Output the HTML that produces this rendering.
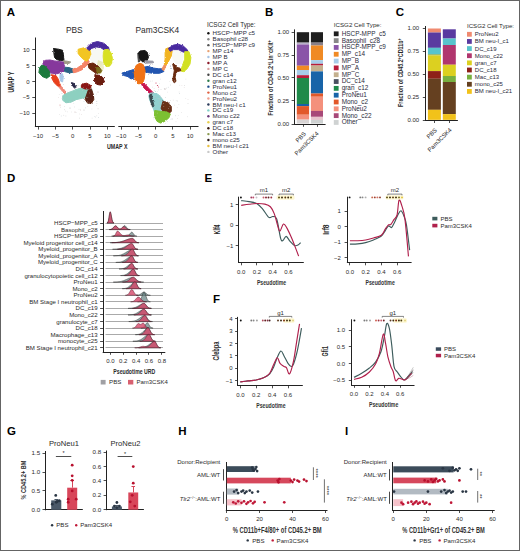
<!DOCTYPE html>
<html><head><meta charset="utf-8"><style>
html,body{margin:0;padding:0;background:#fff;}
svg{display:block;font-family:"Liberation Sans", sans-serif;}
text{paint-order:stroke;}
</style></head><body>
<svg width="520" height="551" viewBox="0 0 520 551">
<rect x="0" y="0" width="520" height="551" fill="#fff"/>
<text x="6.80" y="16.15" font-size="11.5" font-weight="bold" fill="#000">A</text>
<text x="74.30" y="33.00" font-size="8.4" text-anchor="middle" fill="#2a2a2a">PBS</text>
<text x="157.40" y="33.00" font-size="8.4" text-anchor="middle" fill="#2a2a2a">Pam3CSK4</text>
<line x1="35.50" y1="37.50" x2="35.50" y2="126.90" stroke="#222" stroke-width="1"/>
<line x1="34.90" y1="126.50" x2="114.80" y2="126.50" stroke="#222" stroke-width="1"/>
<line x1="32.30" y1="49.50" x2="35.40" y2="49.50" stroke="#222" stroke-width="0.8"/>
<text x="29.60" y="51.60" font-size="6" text-anchor="end" fill="#2a2a2a">10</text>
<line x1="32.30" y1="65.50" x2="35.40" y2="65.50" stroke="#222" stroke-width="0.8"/>
<text x="29.60" y="67.50" font-size="6" text-anchor="end" fill="#2a2a2a">5</text>
<line x1="32.30" y1="81.50" x2="35.40" y2="81.50" stroke="#222" stroke-width="0.8"/>
<text x="29.60" y="83.50" font-size="6" text-anchor="end" fill="#2a2a2a">0</text>
<line x1="32.30" y1="97.50" x2="35.40" y2="97.50" stroke="#222" stroke-width="0.8"/>
<text x="29.60" y="99.40" font-size="6" text-anchor="end" fill="#2a2a2a">−5</text>
<line x1="32.30" y1="113.50" x2="35.40" y2="113.50" stroke="#222" stroke-width="0.8"/>
<text x="29.60" y="115.40" font-size="6" text-anchor="end" fill="#2a2a2a">−10</text>
<line x1="38.50" y1="126.40" x2="38.50" y2="129.60" stroke="#222" stroke-width="0.8"/>
<text x="38.10" y="138.00" font-size="6" text-anchor="middle" fill="#2a2a2a">−10</text>
<line x1="55.50" y1="126.40" x2="55.50" y2="129.60" stroke="#222" stroke-width="0.8"/>
<text x="55.40" y="138.00" font-size="6" text-anchor="middle" fill="#2a2a2a">−5</text>
<line x1="72.50" y1="126.40" x2="72.50" y2="129.60" stroke="#222" stroke-width="0.8"/>
<text x="72.70" y="138.00" font-size="6" text-anchor="middle" fill="#2a2a2a">0</text>
<line x1="90.50" y1="126.40" x2="90.50" y2="129.60" stroke="#222" stroke-width="0.8"/>
<text x="90.00" y="138.00" font-size="6" text-anchor="middle" fill="#2a2a2a">5</text>
<line x1="107.50" y1="126.40" x2="107.50" y2="129.60" stroke="#222" stroke-width="0.8"/>
<text x="107.30" y="138.00" font-size="6" text-anchor="middle" fill="#2a2a2a">10</text>
<line x1="118.30" y1="126.50" x2="198.50" y2="126.50" stroke="#222" stroke-width="1"/>
<line x1="121.50" y1="126.40" x2="121.50" y2="129.60" stroke="#222" stroke-width="0.8"/>
<text x="121.20" y="138.00" font-size="6" text-anchor="middle" fill="#2a2a2a">−10</text>
<line x1="138.50" y1="126.40" x2="138.50" y2="129.60" stroke="#222" stroke-width="0.8"/>
<text x="138.40" y="138.00" font-size="6" text-anchor="middle" fill="#2a2a2a">−5</text>
<line x1="155.50" y1="126.40" x2="155.50" y2="129.60" stroke="#222" stroke-width="0.8"/>
<text x="155.60" y="138.00" font-size="6" text-anchor="middle" fill="#2a2a2a">0</text>
<line x1="172.50" y1="126.40" x2="172.50" y2="129.60" stroke="#222" stroke-width="0.8"/>
<text x="172.80" y="138.00" font-size="6" text-anchor="middle" fill="#2a2a2a">5</text>
<line x1="190.50" y1="126.40" x2="190.50" y2="129.60" stroke="#222" stroke-width="0.8"/>
<text x="190.00" y="138.00" font-size="6" text-anchor="middle" fill="#2a2a2a">10</text>
<text x="117.20" y="148.90" font-size="8.0" text-anchor="middle" font-weight="bold" fill="#2a2a2a" textLength="20.50" lengthAdjust="spacingAndGlyphs">UMAP X</text>
<text x="13.60" y="82.10" font-size="8.2" text-anchor="middle" font-weight="bold" fill="#2a2a2a" textLength="21.00" lengthAdjust="spacingAndGlyphs" transform="rotate(-90 13.60 82.10)">UMAP Y</text>
<path d="M90,48 L100,46 L104,50 L103.5,60 L101,67 L95,65 L90,60Z" fill="rgba(215,222,200,0.2)"/>
<path d="M98,60 L103,62 L104,68 L101,74 L97,72 L97,65Z" fill="rgba(205,205,90,0.35)"/>
<path d="M172,50 L182,49 L184,56 L182,64 L176,64 L172,58Z" fill="rgba(215,222,200,0.18)"/>
<defs><filter id="rough" x="-5%" y="-5%" width="110%" height="110%"><feTurbulence type="fractalNoise" baseFrequency="0.9" numOctaves="2" seed="3" result="n"/><feDisplacementMap in="SourceGraphic" in2="n" scale="2.2" xChannelSelector="R" yChannelSelector="G"/></filter></defs><g filter="url(#rough)">
<path d="M64.5,67.2 L69.1,67.6 L73.7,69.2 L75.0,71.8 L69.8,72.9 L64.5,71.6Z" fill="#2a6484" stroke="#2a6484" stroke-width="1.0" stroke-linejoin="round"/>
<path d="M58.3,84.2 L61.5,86.6 L64.6,90.3 L66.9,94.2 L65.6,95.2 L62.8,91.6 L59.6,88.0 L57.6,85.6Z" fill="#f08878" stroke="#f08878" stroke-width="1.0" stroke-linejoin="round"/>
<path d="M53.8,48.6 L58.5,49.2 L62.6,50.3 L63.4,54.5 L64.0,60.6 L60.5,60.6 L56.5,59.5 L54.6,57.6 L53.9,53.5Z" fill="#151515" stroke="#151515" stroke-width="1.0" stroke-linejoin="round"/>
<path d="M63.2,60.8 L67.0,61.2 L70.8,62.0 L69.0,63.4 L63.5,63.4Z" fill="#a09a88" stroke="#a09a88" stroke-width="1.0" stroke-linejoin="round"/>
<path d="M45.1,60.4 L50.0,60.0 L54.1,60.9 L59.0,61.5 L63.2,62.1 L64.6,66.5 L63.4,71.0 L60.0,72.8 L56.9,73.8 L50.5,73.0 L46.5,69.5 L43.2,65.5 L42.9,62.2Z" fill="#86399c" stroke="#86399c" stroke-width="1.0" stroke-linejoin="round"/>
<path d="M42.0,64.7 L45.2,66.3 L49.3,71.1 L50.0,75.9 L46.8,78.3 L42.7,76.7 L38.9,72.6 L39.6,67.8Z" fill="#1d7a3c" stroke="#1d7a3c" stroke-width="1.0" stroke-linejoin="round"/>
<path d="M51.2,74.7 L56.0,75.5 L58.5,79.5 L59.3,82.6 L60.8,85.9 L57.5,86.0 L54.3,82.8 L52.0,78.8Z" fill="#e8401c" stroke="#e8401c" stroke-width="1.0" stroke-linejoin="round"/>
<path d="M60.0,74.2 L62.6,73.8 L63.2,78.0 L62.6,82.0 L60.8,81.3 L59.9,78.0Z" fill="#a8c8e8" stroke="#a8c8e8" stroke-width="1.0" stroke-linejoin="round"/>
<path d="M72.7,69.3 L77.5,67.8 L82.2,64.7 L85.0,61.0 L87.5,59.2 L89.3,61.8 L87.0,65.1 L82.2,69.7 L76.8,72.0 L73.5,72.8Z" fill="#f58468" stroke="#f58468" stroke-width="1.0" stroke-linejoin="round"/>
<path d="M78.1,49.3 L83.7,47.8 L89.8,49.3 L90.8,53.4 L89.3,58.2 L86.8,61.3 L83.7,59.7 L80.6,56.7 L78.1,53.4Z" fill="#f2c522" stroke="#f2c522" stroke-width="1.0" stroke-linejoin="round"/>
<path d="M86.6,48.2 L91.4,43.2 L97.5,41.5 L103.7,43.2 L108.5,47.0 L109.3,50.5 L105.2,50.5 L100.6,47.6 L96.0,46.9 L91.6,48.4 L89.3,50.6Z" fill="#4a2a9c" stroke="#4a2a9c" stroke-width="1.0" stroke-linejoin="round"/>
<path d="M104.3,49.8 L108.3,49.3 L111.4,53.5 L112.4,58.5 L111.6,63.5 L109.5,66.2 L106.0,66.4 L103.8,63.0 L103.2,57.0 L103.4,52.5Z" fill="#d8e024" stroke="#d8e024" stroke-width="1.0" stroke-linejoin="round"/>
<path d="M88.1,64.0 L92.9,63.0 L96.5,65.0 L99.3,67.0 L100.4,70.5 L99.0,73.4 L95.5,73.0 L92.0,70.5 L88.9,68.2Z" fill="#6a2610" stroke="#6a2610" stroke-width="1.0" stroke-linejoin="round"/>
<path d="M96.5,67.5 L99.5,67.8 L101.8,70.5 L100.5,73.0 L97.0,72.5Z" fill="#7a6a1a" stroke="#7a6a1a" stroke-width="1.0" stroke-linejoin="round"/>
<path d="M95.0,74.7 L100.6,75.5 L103.9,78.8 L103.9,82.8 L100.6,85.1 L96.8,84.4 L94.3,80.3Z" fill="#6a1a0e" stroke="#6a1a0e" stroke-width="1.0" stroke-linejoin="round"/>
<path d="M62.7,95.7 L66.8,93.2 L72.9,90.9 L79.1,88.6 L86.8,87.0 L91.4,88.6 L92.4,92.6 L88.3,96.7 L82.2,98.2 L76.0,99.7 L71.4,102.0 L66.0,102.8 L62.7,100.3Z" fill="#8dd0c0" stroke="#8dd0c0" stroke-width="1.0" stroke-linejoin="round"/>
<path d="M88.3,90.1 L91.5,89.3 L93.4,94.9 L93.8,99.5 L91.8,102.8 L88.0,103.6 L85.0,99.5 L86.6,94.9Z" fill="#5a2212" stroke="#5a2212" stroke-width="1.0" stroke-linejoin="round"/>
<path d="M82.0,84.0 L86.8,83.2 L90.8,85.5 L90.8,88.8 L85.2,89.0 L81.2,87.2Z" fill="#8a1512" stroke="#8a1512" stroke-width="1.0" stroke-linejoin="round"/>
<path d="M71.4,82.6 L73.7,83.2 L76.2,87.2 L74.5,88.2 L72.0,84.9Z" fill="#2a2a48" stroke="#2a2a48" stroke-width="1.0" stroke-linejoin="round"/>
<path d="M137.8,53.0 L139.5,51.5 L140.5,56.0 L140.2,61.0 L138.5,62.0 L138.0,58.0Z" fill="#4a4a4a" stroke="#4a4a4a" stroke-width="1.0" stroke-linejoin="round"/>
<path d="M140.0,51.0 L144.9,50.5 L147.6,52.7 L148.4,57.6 L146.8,61.1 L142.5,61.9 L139.8,58.4 L139.0,54.3Z" fill="#151515" stroke="#151515" stroke-width="1.0" stroke-linejoin="round"/>
<path d="M144.9,60.8 L153.1,61.2 L153.1,62.8 L145.0,63.3Z" fill="#9a9aa6" stroke="#9a9aa6" stroke-width="1.0" stroke-linejoin="round"/>
<path d="M121.9,73.1 L127.8,71.3 L133.5,69.6 L136.2,71.5 L135.3,76.6 L131.1,79.0 L127.8,76.6 L123.5,75.4Z" fill="#2255b0" stroke="#2255b0" stroke-width="1.0" stroke-linejoin="round"/>
<path d="M143.3,67.2 L148.2,66.4 L153.1,68.0 L158.8,68.8 L162.9,68.8 L163.9,71.5 L159.6,73.3 L153.1,73.3 L147.4,72.5 L144.1,71.7Z" fill="#2255b0" stroke="#2255b0" stroke-width="1.0" stroke-linejoin="round"/>
<path d="M142.5,82.7 L145.8,85.1 L149.0,88.4 L152.3,91.7 L153.3,94.5 L150.7,94.5 L147.4,91.3 L144.1,88.0 L141.5,84.5Z" fill="#c81850" stroke="#c81850" stroke-width="1.0" stroke-linejoin="round"/>
<path d="M136.0,65.5 L140.0,63.1 L143.3,64.7 L145.1,70.7 L144.3,78.8 L142.7,83.1 L138.4,83.9 L134.9,78.8 L134.1,72.3Z" fill="#f07214" stroke="#f07214" stroke-width="1.0" stroke-linejoin="round"/>
<path d="M161.8,69.2 L164.3,64.7 L166.0,60.7 L167.6,57.4 L169.0,58.5 L167.6,62.0 L165.8,66.0 L163.8,70.6Z" fill="#f09060" stroke="#f09060" stroke-width="1.0" stroke-linejoin="round"/>
<path d="M166.0,48.4 L170.2,47.6 L172.1,51.1 L171.3,56.0 L168.8,60.9 L166.4,64.9 L164.3,64.1 L165.1,59.2 L165.1,52.7Z" fill="#f2b420" stroke="#f2b420" stroke-width="1.0" stroke-linejoin="round"/>
<path d="M168.4,48.4 L173.5,45.1 L178.4,44.3 L183.3,46.0 L187.6,50.0 L187.6,52.9 L183.3,52.1 L178.4,49.6 L173.5,49.6 L170.2,51.3Z" fill="#4a2aa0" stroke="#4a2aa0" stroke-width="1.0" stroke-linejoin="round"/>
<path d="M184.7,51.7 L189.0,51.7 L190.9,57.6 L190.0,64.1 L186.8,69.2 L183.3,71.7 L180.7,70.9 L182.3,65.8 L184.7,59.2Z" fill="#d2e024" stroke="#d2e024" stroke-width="1.0" stroke-linejoin="round"/>
<path d="M172.7,64.1 L175.1,64.9 L176.8,67.4 L180.0,68.2 L180.9,70.7 L177.6,71.5 L176.0,73.1 L175.1,77.2 L176.0,81.3 L174.3,82.9 L172.7,80.4 L173.5,75.6 L174.3,70.7 L173.5,67.4Z" fill="#6a2a10" stroke="#6a2a10" stroke-width="1.0" stroke-linejoin="round"/>
<path d="M149.8,93.3 L154.7,92.5 L158.8,94.9 L162.9,99.8 L165.5,103.3 L163.9,106.6 L161.3,109.8 L158.8,114.9 L155.4,114.9 L153.7,109.8 L152.1,104.9 L149.6,100.0 L148.8,96.0Z" fill="#92d0d0" stroke="#92d0d0" stroke-width="1.0" stroke-linejoin="round"/>
<path d="M149.4,95.0 L151.5,94.0 L152.5,100.0 L154.0,106.0 L152.5,107.0 L150.5,101.0Z" fill="#3a4a50" stroke="#3a4a50" stroke-width="1.0" stroke-linejoin="round"/>
<path d="M162.9,101.5 L167.8,102.3 L171.3,106.6 L171.3,111.5 L167.8,114.1 L163.7,113.3 L161.1,108.2Z" fill="#6a3018" stroke="#6a3018" stroke-width="1.0" stroke-linejoin="round"/>
<path d="M154.7,110.5 L160.4,111.3 L167.0,112.1 L170.4,113.9 L168.8,118.0 L164.5,121.5 L160.4,123.1 L157.0,121.3 L154.5,116.4Z" fill="#7cc030" stroke="#7cc030" stroke-width="1.0" stroke-linejoin="round"/>
</g>
<rect x="64.3" y="106.1" width="0.6" height="0.6" fill="#c8c8c8"/>
<rect x="153.6" y="104.8" width="0.6" height="0.6" fill="#a8b8c0"/>
<rect x="61.6" y="98.2" width="0.6" height="0.6" fill="#d0d0d0"/>
<rect x="75.8" y="112.1" width="0.6" height="0.6" fill="#c8c8c8"/>
<rect x="174.0" y="104.8" width="0.6" height="0.6" fill="#c8c8c8"/>
<rect x="165.1" y="122.9" width="0.6" height="0.6" fill="#c8c8c8"/>
<rect x="155.1" y="97.3" width="0.6" height="0.6" fill="#a8b8c0"/>
<rect x="71.0" y="111.7" width="0.6" height="0.6" fill="#d0d0d0"/>
<rect x="82.0" y="90.4" width="0.6" height="0.6" fill="#c8c8c8"/>
<rect x="152.4" y="80.7" width="0.6" height="0.6" fill="#d0d0d0"/>
<rect x="80.3" y="110.4" width="0.6" height="0.6" fill="#d8c8c8"/>
<rect x="167.2" y="91.8" width="0.6" height="0.6" fill="#d0d0d0"/>
<rect x="159.3" y="104.4" width="0.6" height="0.6" fill="#a8b8c0"/>
<rect x="72.4" y="99.3" width="0.6" height="0.6" fill="#a8b8c0"/>
<rect x="154.5" y="97.2" width="0.6" height="0.6" fill="#b8b8b8"/>
<rect x="78.5" y="85.3" width="0.6" height="0.6" fill="#c8c8c8"/>
<rect x="171.8" y="118.3" width="0.6" height="0.6" fill="#b8b8b8"/>
<rect x="72.7" y="100.9" width="0.6" height="0.6" fill="#d8c8c8"/>
<rect x="61.9" y="93.2" width="0.6" height="0.6" fill="#c8c8c8"/>
<rect x="87.5" y="106.0" width="0.6" height="0.6" fill="#d8c8c8"/>
<rect x="74.2" y="106.7" width="0.6" height="0.6" fill="#c8c8c8"/>
<rect x="163.5" y="106.1" width="0.6" height="0.6" fill="#d8c8c8"/>
<rect x="90.3" y="88.4" width="0.6" height="0.6" fill="#d0d0d0"/>
<rect x="96.5" y="100.9" width="0.6" height="0.6" fill="#d0d0d0"/>
<rect x="81.1" y="114.0" width="0.6" height="0.6" fill="#d8c8c8"/>
<rect x="160.6" y="97.1" width="0.6" height="0.6" fill="#b8b8b8"/>
<rect x="164.5" y="88.6" width="0.6" height="0.6" fill="#c8c8c8"/>
<rect x="67.7" y="91.9" width="0.6" height="0.6" fill="#d8c8c8"/>
<rect x="156.9" y="91.0" width="0.6" height="0.6" fill="#d0d0d0"/>
<rect x="73.5" y="103.3" width="0.6" height="0.6" fill="#d0d0d0"/>
<rect x="169.6" y="106.4" width="0.6" height="0.6" fill="#c8c8c8"/>
<rect x="94.6" y="116.4" width="0.6" height="0.6" fill="#a8b8c0"/>
<rect x="74.8" y="87.5" width="0.6" height="0.6" fill="#d8c8c8"/>
<rect x="60.8" y="91.1" width="0.6" height="0.6" fill="#d0d0d0"/>
<rect x="83.2" y="87.5" width="0.6" height="0.6" fill="#a8b8c0"/>
<rect x="62.3" y="96.4" width="0.6" height="0.6" fill="#c8c8c8"/>
<rect x="66.7" y="96.8" width="0.6" height="0.6" fill="#b8b8b8"/>
<rect x="172.9" y="99.8" width="0.6" height="0.6" fill="#c8c8c8"/>
<rect x="187.7" y="99.4" width="0.6" height="0.6" fill="#d8c8c8"/>
<rect x="64.1" y="109.5" width="0.6" height="0.6" fill="#b8b8b8"/>
<rect x="87.1" y="101.6" width="0.6" height="0.6" fill="#d0d0d0"/>
<rect x="170.1" y="84.7" width="0.6" height="0.6" fill="#a8b8c0"/>
<rect x="178.8" y="91.7" width="0.6" height="0.6" fill="#c8c8c8"/>
<rect x="159.9" y="94.9" width="0.6" height="0.6" fill="#d0d0d0"/>
<rect x="67.4" y="102.4" width="0.6" height="0.6" fill="#a8b8c0"/>
<rect x="67.4" y="111.6" width="0.6" height="0.6" fill="#d0d0d0"/>
<rect x="181.1" y="112.0" width="0.6" height="0.6" fill="#d0d0d0"/>
<rect x="78.7" y="108.9" width="0.6" height="0.6" fill="#c8c8c8"/>
<rect x="167.9" y="86.9" width="0.6" height="0.6" fill="#a8b8c0"/>
<rect x="167.0" y="121.1" width="0.6" height="0.6" fill="#b8b8b8"/>
<rect x="163.9" y="88.1" width="0.6" height="0.6" fill="#d0d0d0"/>
<rect x="72.2" y="100.4" width="0.6" height="0.6" fill="#a8b8c0"/>
<rect x="168.2" y="108.0" width="0.6" height="0.6" fill="#c8c8c8"/>
<rect x="154.6" y="95.9" width="0.6" height="0.6" fill="#d0d0d0"/>
<rect x="65.5" y="110.8" width="0.6" height="0.6" fill="#b8b8b8"/>
<rect x="97.7" y="108.5" width="0.6" height="0.6" fill="#d8c8c8"/>
<rect x="97.8" y="108.6" width="0.6" height="0.6" fill="#d0d0d0"/>
<rect x="151.0" y="105.2" width="0.6" height="0.6" fill="#d8c8c8"/>
<rect x="155.6" y="116.0" width="0.6" height="0.6" fill="#d8c8c8"/>
<rect x="163.3" y="103.2" width="0.6" height="0.6" fill="#d0d0d0"/>
<rect x="91.6" y="108.7" width="0.6" height="0.6" fill="#c8c8c8"/>
<rect x="185.5" y="98.0" width="0.6" height="0.6" fill="#d0d0d0"/>
<rect x="158.0" y="89.6" width="0.6" height="0.6" fill="#b8b8b8"/>
<rect x="179.0" y="93.0" width="0.6" height="0.6" fill="#a8b8c0"/>
<rect x="63.5" y="114.9" width="0.6" height="0.6" fill="#b8b8b8"/>
<rect x="175.2" y="115.5" width="0.6" height="0.6" fill="#a8b8c0"/>
<rect x="96.5" y="101.1" width="0.6" height="0.6" fill="#a8b8c0"/>
<rect x="79.4" y="113.7" width="0.6" height="0.6" fill="#d0d0d0"/>
<rect x="179.5" y="84.9" width="0.6" height="0.6" fill="#d0d0d0"/>
<rect x="88.5" y="102.9" width="0.6" height="0.6" fill="#b8b8b8"/>
<rect x="170.2" y="100.2" width="0.6" height="0.6" fill="#c8c8c8"/>
<rect x="152.2" y="86.8" width="0.6" height="0.6" fill="#c8c8c8"/>
<rect x="169.3" y="103.8" width="0.6" height="0.6" fill="#c8c8c8"/>
<rect x="83.7" y="101.2" width="0.6" height="0.6" fill="#a8b8c0"/>
<rect x="69.6" y="101.3" width="0.6" height="0.6" fill="#d8c8c8"/>
<rect x="159.4" y="102.1" width="0.6" height="0.6" fill="#b8b8b8"/>
<rect x="183.9" y="87.3" width="0.6" height="0.6" fill="#d8c8c8"/>
<rect x="63.1" y="99.0" width="0.6" height="0.6" fill="#c8c8c8"/>
<rect x="166.3" y="87.8" width="0.6" height="0.6" fill="#b8b8b8"/>
<rect x="184.1" y="85.1" width="0.6" height="0.6" fill="#b8b8b8"/>
<rect x="95.1" y="116.9" width="0.6" height="0.6" fill="#d0d0d0"/>
<rect x="153.6" y="118.7" width="0.6" height="0.6" fill="#d0d0d0"/>
<rect x="181.6" y="85.4" width="0.6" height="0.6" fill="#d8c8c8"/>
<rect x="165.3" y="97.4" width="0.6" height="0.6" fill="#b8b8b8"/>
<rect x="88.3" y="84.7" width="0.6" height="0.6" fill="#a8b8c0"/>
<rect x="87.5" y="97.1" width="0.6" height="0.6" fill="#a8b8c0"/>
<rect x="169.5" y="81.0" width="0.6" height="0.6" fill="#d0d0d0"/>
<rect x="154.0" y="90.2" width="0.6" height="0.6" fill="#c8c8c8"/>
<rect x="156.9" y="112.8" width="0.6" height="0.6" fill="#d8c8c8"/>
<rect x="175.7" y="121.5" width="0.6" height="0.6" fill="#d8c8c8"/>
<rect x="96.6" y="103.4" width="0.6" height="0.6" fill="#b8b8b8"/>
<rect x="60.4" y="107.4" width="0.6" height="0.6" fill="#d8c8c8"/>
<rect x="160.2" y="78.8" width="0.6" height="0.6" fill="#c8c8c8"/>
<rect x="153.2" y="117.4" width="0.6" height="0.6" fill="#c8c8c8"/>
<rect x="63.1" y="84.4" width="0.6" height="0.6" fill="#a8b8c0"/>
<rect x="96.4" y="105.1" width="0.6" height="0.6" fill="#c8c8c8"/>
<rect x="159.1" y="83.0" width="0.6" height="0.6" fill="#d0d0d0"/>
<rect x="65.6" y="115.7" width="0.6" height="0.6" fill="#b8b8b8"/>
<rect x="157.8" y="98.5" width="0.6" height="0.6" fill="#d0d0d0"/>
<rect x="91.8" y="117.8" width="0.6" height="0.6" fill="#c8c8c8"/>
<rect x="88.8" y="102.7" width="0.6" height="0.6" fill="#d0d0d0"/>
<rect x="159.3" y="98.6" width="0.6" height="0.6" fill="#d8c8c8"/>
<rect x="170.7" y="118.9" width="0.6" height="0.6" fill="#a8b8c0"/>
<rect x="67.0" y="91.8" width="0.6" height="0.6" fill="#d0d0d0"/>
<rect x="176.9" y="107.3" width="0.6" height="0.6" fill="#d8c8c8"/>
<rect x="187.3" y="116.5" width="0.6" height="0.6" fill="#c8c8c8"/>
<rect x="89.1" y="92.7" width="0.6" height="0.6" fill="#d0d0d0"/>
<rect x="85.9" y="96.9" width="0.6" height="0.6" fill="#a8b8c0"/>
<rect x="160.7" y="89.1" width="0.6" height="0.6" fill="#b8b8b8"/>
<rect x="65.8" y="93.1" width="0.6" height="0.6" fill="#c8c8c8"/>
<rect x="98.4" y="117.1" width="0.6" height="0.6" fill="#a8b8c0"/>
<rect x="59.4" y="114.0" width="0.6" height="0.6" fill="#d0d0d0"/>
<rect x="58.0" y="97.0" width="0.6" height="0.6" fill="#d8c8c8"/>
<rect x="85.6" y="92.4" width="0.6" height="0.6" fill="#c8c8c8"/>
<rect x="92.3" y="88.9" width="0.6" height="0.6" fill="#a8b8c0"/>
<rect x="58.9" y="94.3" width="0.6" height="0.6" fill="#d0d0d0"/>
<rect x="98.2" y="113.0" width="0.6" height="0.6" fill="#d0d0d0"/>
<rect x="177.2" y="118.4" width="0.6" height="0.6" fill="#d8c8c8"/>
<rect x="177.4" y="100.7" width="0.6" height="0.6" fill="#b8b8b8"/>
<rect x="174.4" y="80.0" width="0.6" height="0.6" fill="#a8b8c0"/>
<rect x="177.9" y="115.4" width="0.6" height="0.6" fill="#d0d0d0"/>
<rect x="178.6" y="104.2" width="0.6" height="0.6" fill="#c8c8c8"/>
<rect x="172.2" y="119.1" width="0.6" height="0.6" fill="#d0d0d0"/>
<rect x="59.8" y="105.7" width="0.6" height="0.6" fill="#c8c8c8"/>
<rect x="77.0" y="85.7" width="0.6" height="0.6" fill="#c8c8c8"/>
<rect x="175.9" y="100.5" width="0.6" height="0.6" fill="#c8c8c8"/>
<rect x="60.9" y="115.7" width="0.6" height="0.6" fill="#a8b8c0"/>
<rect x="80.1" y="109.4" width="0.6" height="0.6" fill="#d8c8c8"/>
<rect x="61.1" y="93.0" width="0.6" height="0.6" fill="#d0d0d0"/>
<rect x="85.3" y="99.7" width="0.6" height="0.6" fill="#d8c8c8"/>
<rect x="96.2" y="93.8" width="0.6" height="0.6" fill="#c8c8c8"/>
<rect x="174.4" y="81.6" width="0.6" height="0.6" fill="#d0d0d0"/>
<rect x="85.4" y="107.6" width="0.6" height="0.6" fill="#a8b8c0"/>
<rect x="150.5" y="80.8" width="0.6" height="0.6" fill="#b8b8b8"/>
<rect x="153.8" y="88.0" width="0.6" height="0.6" fill="#d8c8c8"/>
<rect x="79.7" y="99.8" width="0.6" height="0.6" fill="#d8c8c8"/>
<rect x="187.7" y="103.3" width="0.6" height="0.6" fill="#b8b8b8"/>
<rect x="185.6" y="78.8" width="0.6" height="0.6" fill="#d8c8c8"/>
<rect x="79.3" y="117.8" width="0.6" height="0.6" fill="#b8b8b8"/>
<rect x="96.5" y="115.6" width="0.6" height="0.6" fill="#c8c8c8"/>
<circle cx="156.00" cy="83.00" r="0.6" fill="#d04060"/>
<circle cx="157.50" cy="85.50" r="0.6" fill="#c83050"/>
<circle cx="158.50" cy="87.00" r="0.6" fill="#e06080"/>
<circle cx="170.50" cy="66.00" r="0.6" fill="#a0b0d0"/>
<circle cx="171.00" cy="68.50" r="0.6" fill="#8090b0"/>
<circle cx="165.00" cy="89.00" r="0.6" fill="#b0a0a0"/>
<circle cx="60.00" cy="105.00" r="0.6" fill="#e0a0a0"/>
<circle cx="70.00" cy="108.00" r="0.6" fill="#c0c0c0"/>
<circle cx="75.00" cy="112.00" r="0.6" fill="#d0c0c0"/>
<circle cx="84.00" cy="110.00" r="0.6" fill="#c8c8c8"/>
<circle cx="98.00" cy="92.00" r="0.6" fill="#d0b0b0"/>
<text x="207.00" y="27.40" font-size="6.3" fill="#2a2a2a">ICSG2 Cell Type:</text>
<circle cx="208.40" cy="33.30" r="1.2" fill="#111"/>
<text x="212.60" y="35.40" font-size="6.2" fill="#2a2a3a">HSCP−MPP c5</text>
<circle cx="208.40" cy="39.23" r="1.2" fill="#8a8a8a"/>
<text x="212.60" y="41.33" font-size="6.2" fill="#2a2a3a">Basophil c28</text>
<circle cx="208.40" cy="45.16" r="1.2" fill="#555"/>
<text x="212.60" y="47.26" font-size="6.2" fill="#2a2a3a">HSCP−MPP c9</text>
<circle cx="208.40" cy="51.09" r="1.2" fill="#e8a070"/>
<text x="212.60" y="53.19" font-size="6.2" fill="#2a2a3a">MP c14</text>
<circle cx="208.40" cy="57.02" r="1.2" fill="#a8c4e4"/>
<text x="212.60" y="59.12" font-size="6.2" fill="#2a2a3a">MP B</text>
<circle cx="208.40" cy="62.95" r="1.2" fill="#8b1a2a"/>
<text x="212.60" y="65.05" font-size="6.2" fill="#2a2a3a">MP A</text>
<circle cx="208.40" cy="68.88" r="1.2" fill="#d8a0a0"/>
<text x="212.60" y="70.98" font-size="6.2" fill="#2a2a3a">MP C</text>
<circle cx="208.40" cy="74.81" r="1.2" fill="#444"/>
<text x="212.60" y="76.91" font-size="6.2" fill="#2a2a3a">DC c14</text>
<circle cx="208.40" cy="80.74" r="1.2" fill="#2a7a4a"/>
<text x="212.60" y="82.84" font-size="6.2" fill="#2a2a3a">gran c12</text>
<circle cx="208.40" cy="86.67" r="1.2" fill="#1a4a8a"/>
<text x="212.60" y="88.77" font-size="6.2" fill="#2a2a3a">ProNeu1</text>
<circle cx="208.40" cy="92.60" r="1.2" fill="#e06040"/>
<text x="212.60" y="94.70" font-size="6.2" fill="#2a2a3a">Mono c2</text>
<circle cx="208.40" cy="98.53" r="1.2" fill="#f0a090"/>
<text x="212.60" y="100.63" font-size="6.2" fill="#2a2a3a">ProNeu2</text>
<circle cx="208.40" cy="104.46" r="1.2" fill="#2a3a5a"/>
<text x="212.60" y="106.56" font-size="6.2" fill="#2a2a3a">BM neu-l c1</text>
<circle cx="208.40" cy="110.39" r="1.2" fill="#80d0c8"/>
<text x="212.60" y="112.49" font-size="6.2" fill="#2a2a3a">DC c19</text>
<circle cx="208.40" cy="116.32" r="1.2" fill="#6a3a7a"/>
<text x="212.60" y="118.42" font-size="6.2" fill="#2a2a3a">Mono c22</text>
<circle cx="208.40" cy="122.25" r="1.2" fill="#e8d050"/>
<text x="212.60" y="124.35" font-size="6.2" fill="#2a2a3a">gran c7</text>
<circle cx="208.40" cy="128.18" r="1.2" fill="#3a1a10"/>
<text x="212.60" y="130.28" font-size="6.2" fill="#2a2a3a">DC c18</text>
<circle cx="208.40" cy="134.11" r="1.2" fill="#8a9a50"/>
<text x="212.60" y="136.21" font-size="6.2" fill="#2a2a3a">Mac c13</text>
<circle cx="208.40" cy="140.04" r="1.2" fill="#2a1a1a"/>
<text x="212.60" y="142.14" font-size="6.2" fill="#2a2a3a">mono c25</text>
<circle cx="208.40" cy="145.97" r="1.2" fill="#e8c040"/>
<text x="212.60" y="148.07" font-size="6.2" fill="#2a2a3a">BM neu-l c21</text>
<circle cx="208.40" cy="151.90" r="1.2" fill="#c8c8c8"/>
<text x="212.60" y="154.00" font-size="6.2" fill="#2a2a3a">Other</text>
<text x="265.00" y="16.45" font-size="11.5" font-weight="bold" fill="#000">B</text>
<line x1="294.50" y1="29.40" x2="294.50" y2="124.60" stroke="#222" stroke-width="1"/>
<line x1="293.90" y1="124.50" x2="325.60" y2="124.50" stroke="#222" stroke-width="1"/>
<line x1="291.60" y1="32.50" x2="294.40" y2="32.50" stroke="#222" stroke-width="0.8"/>
<text x="289.10" y="34.30" font-size="6" text-anchor="end" fill="#2a2a2a">1.00</text>
<line x1="291.60" y1="55.50" x2="294.40" y2="55.50" stroke="#222" stroke-width="0.8"/>
<text x="289.10" y="57.10" font-size="6" text-anchor="end" fill="#2a2a2a">0.75</text>
<line x1="291.60" y1="77.50" x2="294.40" y2="77.50" stroke="#222" stroke-width="0.8"/>
<text x="289.10" y="79.90" font-size="6" text-anchor="end" fill="#2a2a2a">0.50</text>
<line x1="291.60" y1="100.50" x2="294.40" y2="100.50" stroke="#222" stroke-width="0.8"/>
<text x="289.10" y="102.70" font-size="6" text-anchor="end" fill="#2a2a2a">0.25</text>
<line x1="291.60" y1="124.50" x2="294.40" y2="124.50" stroke="#222" stroke-width="0.8"/>
<text x="289.10" y="126.00" font-size="6" text-anchor="end" fill="#2a2a2a">0.00</text>
<line x1="303.50" y1="124.10" x2="303.50" y2="126.80" stroke="#222" stroke-width="0.8"/>
<line x1="317.50" y1="124.10" x2="317.50" y2="126.80" stroke="#222" stroke-width="0.8"/>
<rect x="296.80" y="32.20" width="12.30" height="10.45" fill="#1e1e1e"/>
<rect x="296.80" y="42.60" width="12.30" height="1.95" fill="#b8b0c8"/>
<rect x="296.80" y="44.50" width="12.30" height="21.25" fill="#8a55a8"/>
<rect x="296.80" y="65.70" width="12.30" height="4.35" fill="#f08a24"/>
<rect x="296.80" y="70.00" width="12.30" height="5.25" fill="#a8cce8"/>
<rect x="296.80" y="75.20" width="12.30" height="2.85" fill="#b81c3a"/>
<rect x="296.80" y="78.00" width="12.30" height="26.05" fill="#1f8a4a"/>
<rect x="296.80" y="104.00" width="12.30" height="2.15" fill="#1860a8"/>
<rect x="296.80" y="106.10" width="12.30" height="8.65" fill="#e2582a"/>
<rect x="296.80" y="114.70" width="12.30" height="4.95" fill="#f4907c"/>
<rect x="296.80" y="119.60" width="12.30" height="3.95" fill="#d8d4d4"/>
<rect x="310.90" y="32.20" width="12.10" height="10.45" fill="#1e1e1e"/>
<rect x="310.90" y="42.60" width="12.10" height="2.95" fill="#8a8088"/>
<rect x="310.90" y="45.50" width="12.10" height="14.65" fill="#f08a24"/>
<rect x="310.90" y="60.10" width="12.10" height="3.75" fill="#a8cce8"/>
<rect x="310.90" y="63.80" width="12.10" height="1.75" fill="#b81c3a"/>
<rect x="310.90" y="65.50" width="12.10" height="5.95" fill="#c4b08e"/>
<rect x="310.90" y="71.40" width="12.10" height="22.15" fill="#1864a8"/>
<rect x="310.90" y="93.50" width="12.10" height="3.25" fill="#e2582a"/>
<rect x="310.90" y="96.70" width="12.10" height="14.25" fill="#f4907c"/>
<rect x="310.90" y="110.90" width="12.10" height="5.95" fill="#a84878"/>
<rect x="310.90" y="116.80" width="12.10" height="3.15" fill="#e8c4cc"/>
<rect x="310.90" y="119.90" width="12.10" height="3.65" fill="#cfd2d2"/>
<text x="272.90" y="78.00" font-size="7.2" text-anchor="middle" font-weight="bold" fill="#2a2a2a" textLength="75.50" lengthAdjust="spacingAndGlyphs" transform="rotate(-90 272.90 78.00)">Fraction of CD45.2<tspan dy="-2.2" font-size="4.6">+</tspan><tspan dy="2.2">Lin</tspan><tspan dy="-2.2" font-size="4.6">−</tspan><tspan dy="2.2">cKit</tspan><tspan dy="-2.2" font-size="4.6">+</tspan></text>
<text x="306.30" y="134.30" font-size="5.95" text-anchor="end" fill="#2a2a2a" transform="rotate(-45 306.30 134.30)">PBS</text>
<text x="319.00" y="133.80" font-size="5.95" text-anchor="end" fill="#2a2a2a" transform="rotate(-45 319.00 133.80)">Pam3CSK4</text>
<text x="333.80" y="26.60" font-size="6.2" fill="#2a2a2a">ICSG2 Cell Type:</text>
<rect x="333.80" y="31.40" width="4.80" height="4.80" fill="#1e1e1e"/>
<text x="341.70" y="35.70" font-size="6.4" fill="#2a2a3a">HSCP-MPP_c5</text>
<rect x="333.80" y="38.22" width="4.80" height="4.80" fill="#888"/>
<text x="341.70" y="42.52" font-size="6.4" fill="#2a2a3a">Basophil_c28</text>
<rect x="333.80" y="45.04" width="4.80" height="4.80" fill="#8a55a8"/>
<text x="341.70" y="49.34" font-size="6.4" fill="#2a2a3a">HSCP-MPP_c9</text>
<rect x="333.80" y="51.86" width="4.80" height="4.80" fill="#f08a24"/>
<text x="341.70" y="56.16" font-size="6.4" fill="#2a2a3a">MP_c14</text>
<rect x="333.80" y="58.68" width="4.80" height="4.80" fill="#a8cce8"/>
<text x="341.70" y="62.98" font-size="6.4" fill="#2a2a3a">MP_B</text>
<rect x="333.80" y="65.50" width="4.80" height="4.80" fill="#b81c3a"/>
<text x="341.70" y="69.80" font-size="6.4" fill="#2a2a3a">MP_A</text>
<rect x="333.80" y="72.32" width="4.80" height="4.80" fill="#c4b08e"/>
<text x="341.70" y="76.62" font-size="6.4" fill="#2a2a3a">MP_C</text>
<rect x="333.80" y="79.14" width="4.80" height="4.80" fill="#4a5060"/>
<text x="341.70" y="83.44" font-size="6.4" fill="#2a2a3a">DC_c14</text>
<rect x="333.80" y="85.96" width="4.80" height="4.80" fill="#1f8a4a"/>
<text x="341.70" y="90.26" font-size="6.4" fill="#2a2a3a">gran_c12</text>
<rect x="333.80" y="92.78" width="4.80" height="4.80" fill="#1864a8"/>
<text x="341.70" y="97.08" font-size="6.4" fill="#2a2a3a">ProNeu1</text>
<rect x="333.80" y="99.60" width="4.80" height="4.80" fill="#e2582a"/>
<text x="341.70" y="103.90" font-size="6.4" fill="#2a2a3a">Mono_c2</text>
<rect x="333.80" y="106.42" width="4.80" height="4.80" fill="#f4907c"/>
<text x="341.70" y="110.72" font-size="6.4" fill="#2a2a3a">ProNeu2</text>
<rect x="333.80" y="113.24" width="4.80" height="4.80" fill="#a84878"/>
<text x="341.70" y="117.54" font-size="6.4" fill="#2a2a3a">Mono_c22</text>
<rect x="333.80" y="120.06" width="4.80" height="4.80" fill="#cfd2d2"/>
<text x="341.70" y="124.36" font-size="6.4" fill="#2a2a3a">Other</text>
<text x="395.80" y="16.25" font-size="11.5" font-weight="bold" fill="#000">C</text>
<line x1="425.50" y1="26.00" x2="425.50" y2="120.80" stroke="#222" stroke-width="1"/>
<line x1="425.10" y1="120.50" x2="457.90" y2="120.50" stroke="#222" stroke-width="1"/>
<line x1="422.80" y1="28.50" x2="425.60" y2="28.50" stroke="#222" stroke-width="0.8"/>
<text x="419.20" y="30.20" font-size="6" text-anchor="end" fill="#2a2a2a">1.00</text>
<line x1="422.80" y1="51.50" x2="425.60" y2="51.50" stroke="#222" stroke-width="0.8"/>
<text x="419.20" y="53.23" font-size="6" text-anchor="end" fill="#2a2a2a">0.75</text>
<line x1="422.80" y1="74.50" x2="425.60" y2="74.50" stroke="#222" stroke-width="0.8"/>
<text x="419.20" y="76.25" font-size="6" text-anchor="end" fill="#2a2a2a">0.50</text>
<line x1="422.80" y1="97.50" x2="425.60" y2="97.50" stroke="#222" stroke-width="0.8"/>
<text x="419.20" y="99.28" font-size="6" text-anchor="end" fill="#2a2a2a">0.25</text>
<line x1="422.80" y1="120.50" x2="425.60" y2="120.50" stroke="#222" stroke-width="0.8"/>
<text x="419.20" y="122.30" font-size="6" text-anchor="end" fill="#2a2a2a">0.00</text>
<line x1="434.50" y1="120.30" x2="434.50" y2="123.00" stroke="#222" stroke-width="0.8"/>
<line x1="449.50" y1="120.30" x2="449.50" y2="123.00" stroke="#222" stroke-width="0.8"/>
<rect x="427.90" y="28.50" width="13.00" height="4.05" fill="#f08a70"/>
<rect x="427.90" y="32.50" width="13.00" height="15.35" fill="#5a3aa0"/>
<rect x="427.90" y="47.80" width="13.00" height="6.55" fill="#58c4cc"/>
<rect x="427.90" y="54.30" width="13.00" height="1.15" fill="#88a848"/>
<rect x="427.90" y="55.40" width="13.00" height="15.75" fill="#dcd020"/>
<rect x="427.90" y="71.10" width="13.00" height="7.65" fill="#8e2018"/>
<rect x="427.90" y="78.70" width="13.00" height="31.15" fill="#654020"/>
<rect x="427.90" y="109.80" width="13.00" height="10.05" fill="#f2c21a"/>
<rect x="442.80" y="29.30" width="13.00" height="9.25" fill="#5a3aa0"/>
<rect x="442.80" y="38.50" width="13.00" height="6.55" fill="#58c4cc"/>
<rect x="442.80" y="45.00" width="13.00" height="19.75" fill="#b0366e"/>
<rect x="442.80" y="64.70" width="13.00" height="11.35" fill="#dcd020"/>
<rect x="442.80" y="76.00" width="13.00" height="6.05" fill="#78b040"/>
<rect x="442.80" y="82.00" width="13.00" height="32.15" fill="#654020"/>
<rect x="442.80" y="114.10" width="13.00" height="5.75" fill="#f2c21a"/>
<text x="403.00" y="72.70" font-size="7.2" text-anchor="middle" font-weight="bold" fill="#2a2a2a" textLength="68.50" lengthAdjust="spacingAndGlyphs" transform="rotate(-90 403.00 72.70)">Fraction of CD45.2<tspan dy="-2.2" font-size="4.6">+</tspan><tspan dy="2.2">CD11b</tspan><tspan dy="-2.2" font-size="4.6">+</tspan></text>
<text x="437.30" y="130.60" font-size="5.95" text-anchor="end" fill="#2a2a2a" transform="rotate(-45 437.30 130.60)">PBS</text>
<text x="452.00" y="130.30" font-size="5.95" text-anchor="end" fill="#2a2a2a" transform="rotate(-45 452.00 130.30)">Pam3CSK4</text>
<text x="467.00" y="28.00" font-size="6.1" fill="#2a2a2a">ICSG2 Cell Type:</text>
<rect x="467.00" y="31.90" width="4.80" height="4.80" fill="#f08a70"/>
<text x="474.80" y="36.30" font-size="6.0" fill="#2a2a3a">ProNeu2</text>
<rect x="467.00" y="39.04" width="4.80" height="4.80" fill="#5a3aa0"/>
<text x="474.80" y="43.44" font-size="6.0" fill="#2a2a3a">BM neu-I_c1</text>
<rect x="467.00" y="46.18" width="4.80" height="4.80" fill="#58c4cc"/>
<text x="474.80" y="50.58" font-size="6.0" fill="#2a2a3a">DC_c19</text>
<rect x="467.00" y="53.32" width="4.80" height="4.80" fill="#b0366e"/>
<text x="474.80" y="57.72" font-size="6.0" fill="#2a2a3a">Mono_c22</text>
<rect x="467.00" y="60.46" width="4.80" height="4.80" fill="#dcd020"/>
<text x="474.80" y="64.86" font-size="6.0" fill="#2a2a3a">gran_c7</text>
<rect x="467.00" y="67.60" width="4.80" height="4.80" fill="#8e2018"/>
<text x="474.80" y="72.00" font-size="6.0" fill="#2a2a3a">DC_c18</text>
<rect x="467.00" y="74.74" width="4.80" height="4.80" fill="#78b040"/>
<text x="474.80" y="79.14" font-size="6.0" fill="#2a2a3a">Mac_c13</text>
<rect x="467.00" y="81.88" width="4.80" height="4.80" fill="#654020"/>
<text x="474.80" y="86.28" font-size="6.0" fill="#2a2a3a">mono_c25</text>
<rect x="467.00" y="89.02" width="4.80" height="4.80" fill="#f2c21a"/>
<text x="474.80" y="93.42" font-size="6.0" fill="#2a2a3a">BM neu-I_c21</text>
<text x="6.90" y="181.85" font-size="11.5" font-weight="bold" fill="#000">D</text>
<line x1="105.50" y1="223.50" x2="163.00" y2="223.50" stroke="#a0a0a0" stroke-width="0.9"/>
<line x1="105.50" y1="229.50" x2="163.00" y2="229.50" stroke="#a0a0a0" stroke-width="0.9"/>
<line x1="105.50" y1="236.50" x2="163.00" y2="236.50" stroke="#a0a0a0" stroke-width="0.9"/>
<line x1="105.50" y1="242.50" x2="163.00" y2="242.50" stroke="#a0a0a0" stroke-width="0.9"/>
<line x1="105.50" y1="249.50" x2="163.00" y2="249.50" stroke="#a0a0a0" stroke-width="0.9"/>
<line x1="105.50" y1="255.50" x2="163.00" y2="255.50" stroke="#a0a0a0" stroke-width="0.9"/>
<line x1="105.50" y1="262.50" x2="163.00" y2="262.50" stroke="#a0a0a0" stroke-width="0.9"/>
<line x1="105.50" y1="268.50" x2="163.00" y2="268.50" stroke="#a0a0a0" stroke-width="0.9"/>
<line x1="105.50" y1="275.50" x2="163.00" y2="275.50" stroke="#a0a0a0" stroke-width="0.9"/>
<line x1="105.50" y1="282.50" x2="163.00" y2="282.50" stroke="#a0a0a0" stroke-width="0.9"/>
<line x1="105.50" y1="288.50" x2="163.00" y2="288.50" stroke="#a0a0a0" stroke-width="0.9"/>
<line x1="105.50" y1="295.50" x2="163.00" y2="295.50" stroke="#a0a0a0" stroke-width="0.9"/>
<line x1="105.50" y1="301.50" x2="163.00" y2="301.50" stroke="#a0a0a0" stroke-width="0.9"/>
<line x1="105.50" y1="308.50" x2="163.00" y2="308.50" stroke="#a0a0a0" stroke-width="0.9"/>
<line x1="105.50" y1="314.50" x2="163.00" y2="314.50" stroke="#a0a0a0" stroke-width="0.9"/>
<line x1="105.50" y1="321.50" x2="163.00" y2="321.50" stroke="#a0a0a0" stroke-width="0.9"/>
<line x1="105.50" y1="328.50" x2="163.00" y2="328.50" stroke="#a0a0a0" stroke-width="0.9"/>
<line x1="105.50" y1="334.50" x2="163.00" y2="334.50" stroke="#a0a0a0" stroke-width="0.9"/>
<line x1="105.50" y1="341.50" x2="163.00" y2="341.50" stroke="#a0a0a0" stroke-width="0.9"/>
<line x1="105.50" y1="347.50" x2="163.00" y2="347.50" stroke="#a0a0a0" stroke-width="0.9"/>
<path d="M107.0,223.0 L107.0,222.9 L107.5,222.7 L108.0,222.0 L108.5,220.4 L109.0,217.6 L109.5,214.3 L110.0,212.2 L110.5,212.4 L111.0,214.3 L111.5,217.0 L112.0,219.6 L112.5,221.3 L113.0,222.3 L113.5,222.8 L114.0,222.9 L114.0,223.0Z" fill="rgba(100,128,128,0.7)" stroke="#2a2a2a" stroke-width="0.45"/>
<path d="M107.0,223.0 L107.0,222.9 L107.5,222.7 L108.0,222.0 L108.5,220.2 L109.0,217.3 L109.5,213.9 L110.0,211.7 L110.5,211.9 L111.0,213.9 L111.5,216.8 L112.0,219.4 L112.5,221.3 L113.0,222.3 L113.5,222.8 L114.0,222.9 L114.0,223.0Z" fill="rgba(212,70,104,0.8)" stroke="#4a1424" stroke-width="0.45"/>
<path d="M109.1,229.6 L109.1,229.5 L109.6,229.5 L110.1,229.5 L110.6,229.4 L111.1,229.2 L111.6,229.0 L112.1,228.7 L112.6,228.3 L113.1,227.8 L113.7,227.2 L114.2,226.7 L114.7,226.3 L115.2,226.0 L115.7,226.0 L116.2,226.2 L116.7,226.6 L117.2,227.1 L117.7,227.6 L118.2,228.1 L118.7,228.6 L119.2,228.9 L119.7,229.1 L120.2,229.1 L120.7,229.1 L121.2,228.8 L121.8,228.4 L122.3,227.8 L122.8,227.2 L123.3,226.5 L123.8,226.0 L124.3,225.6 L124.8,225.6 L125.3,225.9 L125.8,226.4 L126.3,227.0 L126.8,227.7 L127.3,228.3 L127.8,228.8 L128.3,229.1 L128.8,229.3 L129.3,229.4 L129.9,229.5 L130.4,229.5 L130.4,229.6Z" fill="rgba(100,128,128,0.7)" stroke="#2a2a2a" stroke-width="0.45"/>
<path d="M109.7,229.6 L109.7,229.5 L110.2,229.5 L110.7,229.5 L111.2,229.3 L111.7,229.1 L112.2,228.8 L112.7,228.4 L113.2,227.8 L113.7,227.2 L114.2,226.6 L114.7,226.1 L115.2,225.8 L115.7,225.8 L116.2,226.0 L116.7,226.4 L117.2,227.0 L117.7,227.5 L118.2,228.0 L118.7,228.5 L119.2,228.7 L119.8,228.9 L120.3,228.8 L120.8,228.6 L121.3,228.3 L121.8,227.9 L122.3,227.5 L122.8,227.1 L123.3,226.8 L123.8,226.6 L124.3,226.6 L124.8,226.8 L125.3,227.2 L125.8,227.7 L126.3,228.2 L126.8,228.6 L127.3,229.0 L127.8,229.2 L128.3,229.4 L128.8,229.5 L129.3,229.5 L129.8,229.6 L129.8,229.6Z" fill="rgba(212,70,104,0.8)" stroke="#4a1424" stroke-width="0.45"/>
<path d="M111.6,236.1 L111.6,236.1 L112.1,236.1 L112.6,236.1 L113.1,236.1 L113.6,236.0 L114.1,235.9 L114.6,235.8 L115.1,235.6 L115.7,235.4 L116.2,235.2 L116.7,234.9 L117.2,234.8 L117.7,234.7 L118.2,234.6 L118.7,234.7 L119.2,234.8 L119.7,235.0 L120.2,235.2 L120.7,235.4 L121.2,235.6 L121.7,235.8 L122.2,235.9 L122.7,236.0 L123.2,236.1 L123.8,236.1 L124.3,236.1 L124.8,236.1 L125.3,236.1 L125.8,236.1 L126.3,236.1 L126.8,236.1 L127.3,236.0 L127.8,235.8 L128.3,235.5 L128.8,235.1 L129.3,234.6 L129.8,233.9 L130.3,233.3 L130.8,232.7 L131.3,232.3 L131.9,232.1 L132.4,232.4 L132.9,232.9 L133.4,233.7 L133.9,234.4 L134.4,235.1 L134.9,235.5 L135.4,235.8 L135.9,236.0 L136.4,236.1 L136.9,236.1 L136.9,236.1Z" fill="rgba(100,128,128,0.7)" stroke="#2a2a2a" stroke-width="0.45"/>
<path d="M112.9,236.1 L112.9,236.1 L113.4,236.1 L113.9,235.9 L114.5,235.6 L115.0,235.0 L115.5,234.2 L116.0,233.1 L116.5,232.1 L117.0,231.3 L117.5,231.1 L118.0,231.3 L118.5,231.6 L119.1,232.1 L119.6,232.6 L120.1,233.2 L120.6,233.8 L121.1,234.3 L121.6,234.8 L122.1,235.1 L122.6,235.4 L123.1,235.6 L123.7,235.6 L124.2,235.6 L124.7,235.6 L125.2,235.5 L125.7,235.3 L126.2,235.2 L126.7,235.1 L127.2,235.0 L127.8,234.9 L128.3,234.9 L128.8,235.0 L129.3,235.2 L129.8,235.3 L130.3,235.5 L130.8,235.7 L131.3,235.8 L131.8,236.0 L132.4,236.0 L132.9,236.1 L133.4,236.1 L133.9,236.1 L134.4,236.1 L134.4,236.1Z" fill="rgba(212,70,104,0.8)" stroke="#4a1424" stroke-width="0.45"/>
<path d="M110.1,242.7 L110.1,242.7 L110.6,242.7 L111.1,242.7 L111.6,242.7 L112.1,242.7 L112.6,242.6 L113.2,242.6 L113.7,242.6 L114.2,242.6 L114.7,242.6 L115.2,242.5 L115.7,242.5 L116.2,242.4 L116.7,242.4 L117.2,242.3 L117.7,242.3 L118.2,242.2 L118.7,242.1 L119.3,242.0 L119.8,241.9 L120.3,241.8 L120.8,241.7 L121.3,241.6 L121.8,241.5 L122.3,241.3 L122.8,241.2 L123.3,241.0 L123.8,240.9 L124.3,240.7 L124.8,240.5 L125.4,240.3 L125.9,240.2 L126.4,240.0 L126.9,239.8 L127.4,239.6 L127.9,239.5 L128.4,239.3 L128.9,239.2 L129.4,239.1 L129.9,239.0 L130.4,238.9 L131.0,238.8 L131.5,238.8 L132.0,238.7 L132.5,238.7 L133.0,238.8 L133.5,239.2 L134.0,239.8 L134.5,240.4 L135.0,241.1 L135.5,241.6 L136.0,242.0 L136.5,242.3 L137.1,242.5 L137.6,242.6 L138.1,242.7 L138.6,242.7 L138.6,242.7Z" fill="rgba(100,128,128,0.7)" stroke="#2a2a2a" stroke-width="0.45"/>
<path d="M111.7,242.7 L111.7,242.7 L112.2,242.7 L112.7,242.7 L113.2,242.7 L113.7,242.6 L114.2,242.6 L114.7,242.6 L115.2,242.6 L115.7,242.6 L116.2,242.5 L116.7,242.5 L117.2,242.4 L117.7,242.4 L118.2,242.3 L118.8,242.2 L119.3,242.2 L119.8,242.1 L120.3,242.0 L120.8,241.8 L121.3,241.7 L121.8,241.6 L122.3,241.4 L122.8,241.3 L123.3,241.1 L123.8,240.9 L124.3,240.7 L124.8,240.5 L125.3,240.3 L125.8,240.1 L126.3,239.9 L126.8,239.7 L127.3,239.5 L127.8,239.3 L128.3,239.1 L128.8,239.0 L129.3,238.8 L129.8,238.7 L130.3,238.5 L130.8,238.5 L131.3,238.4 L131.8,238.3 L132.4,238.3 L132.9,238.4 L133.4,238.7 L133.9,239.2 L134.4,239.9 L134.9,240.5 L135.4,241.1 L135.9,241.7 L136.4,242.0 L136.9,242.3 L137.4,242.5 L137.9,242.6 L138.4,242.7 L138.9,242.7 L138.9,242.7Z" fill="rgba(212,70,104,0.8)" stroke="#4a1424" stroke-width="0.45"/>
<path d="M112.6,249.3 L112.6,249.2 L113.1,249.2 L113.6,249.2 L114.1,249.2 L114.6,249.2 L115.1,249.2 L115.6,249.1 L116.1,249.1 L116.6,249.1 L117.2,249.0 L117.7,249.0 L118.2,248.9 L118.7,248.8 L119.2,248.7 L119.7,248.6 L120.2,248.5 L120.7,248.3 L121.2,248.2 L121.7,248.0 L122.2,247.8 L122.7,247.6 L123.2,247.4 L123.7,247.2 L124.2,246.9 L124.7,246.7 L125.2,246.4 L125.7,246.2 L126.3,245.9 L126.8,245.6 L127.3,245.4 L127.8,245.1 L128.3,244.9 L128.8,244.7 L129.3,244.5 L129.8,244.4 L130.3,244.2 L130.8,244.2 L131.3,244.1 L131.8,244.1 L132.3,244.3 L132.8,244.8 L133.3,245.5 L133.8,246.4 L134.3,247.2 L134.8,247.8 L135.4,248.4 L135.9,248.7 L136.4,249.0 L136.9,249.1 L137.4,249.2 L137.9,249.2 L137.9,249.3Z" fill="rgba(100,128,128,0.7)" stroke="#2a2a2a" stroke-width="0.45"/>
<path d="M117.4,249.3 L117.4,249.2 L117.9,249.2 L118.4,249.2 L118.9,249.2 L119.4,249.1 L120.0,249.1 L120.5,249.0 L121.0,249.0 L121.5,248.9 L122.0,248.7 L122.5,248.6 L123.0,248.4 L123.5,248.2 L124.1,248.0 L124.6,247.7 L125.1,247.4 L125.6,247.0 L126.1,246.7 L126.6,246.3 L127.1,245.9 L127.6,245.5 L128.2,245.1 L128.7,244.7 L129.2,244.4 L129.7,244.1 L130.2,243.8 L130.7,243.6 L131.2,243.5 L131.7,243.5 L132.2,243.6 L132.8,244.2 L133.3,245.0 L133.8,245.9 L134.3,246.8 L134.8,247.6 L135.3,248.2 L135.8,248.7 L136.3,248.9 L136.9,249.1 L137.4,249.2 L137.9,249.2 L137.9,249.3Z" fill="rgba(212,70,104,0.8)" stroke="#4a1424" stroke-width="0.45"/>
<path d="M113.3,255.8 L113.3,255.8 L113.8,255.8 L114.3,255.8 L114.8,255.8 L115.3,255.7 L115.8,255.7 L116.3,255.7 L116.8,255.6 L117.3,255.6 L117.9,255.5 L118.4,255.5 L118.9,255.4 L119.4,255.3 L119.9,255.2 L120.4,255.0 L120.9,254.9 L121.4,254.7 L121.9,254.5 L122.4,254.3 L122.9,254.1 L123.4,253.9 L123.9,253.6 L124.4,253.3 L124.9,253.1 L125.4,252.8 L125.9,252.4 L126.4,252.1 L127.0,251.8 L127.5,251.5 L128.0,251.2 L128.5,250.9 L129.0,250.6 L129.5,250.4 L130.0,250.2 L130.5,250.0 L131.0,249.8 L131.5,249.7 L132.0,249.7 L132.5,249.7 L133.0,249.9 L133.5,250.5 L134.0,251.4 L134.5,252.4 L135.0,253.3 L135.5,254.1 L136.1,254.8 L136.6,255.2 L137.1,255.5 L137.6,255.7 L138.1,255.8 L138.6,255.8 L138.6,255.8Z" fill="rgba(100,128,128,0.7)" stroke="#2a2a2a" stroke-width="0.45"/>
<path d="M121.3,255.8 L121.3,255.8 L121.8,255.8 L122.3,255.8 L122.8,255.7 L123.4,255.6 L123.9,255.5 L124.4,255.4 L124.9,255.2 L125.4,255.0 L125.9,254.7 L126.4,254.3 L127.0,253.9 L127.5,253.4 L128.0,252.9 L128.5,252.3 L129.0,251.7 L129.5,251.1 L130.0,250.5 L130.6,250.0 L131.1,249.6 L131.6,249.3 L132.1,249.1 L132.6,249.1 L133.1,249.4 L133.6,250.3 L134.1,251.4 L134.7,252.5 L135.2,253.6 L135.7,254.4 L136.2,255.0 L136.7,255.4 L137.2,255.6 L137.7,255.8 L138.3,255.8 L138.3,255.8Z" fill="rgba(212,70,104,0.8)" stroke="#4a1424" stroke-width="0.45"/>
<path d="M115.8,262.4 L115.8,262.4 L116.3,262.4 L116.8,262.4 L117.3,262.3 L117.8,262.3 L118.3,262.3 L118.8,262.2 L119.3,262.2 L119.8,262.1 L120.3,262.0 L120.8,261.9 L121.3,261.8 L121.8,261.6 L122.3,261.4 L122.8,261.2 L123.3,261.0 L123.8,260.7 L124.3,260.5 L124.8,260.1 L125.3,259.8 L125.8,259.5 L126.3,259.1 L126.8,258.8 L127.3,258.4 L127.8,258.0 L128.3,257.7 L128.8,257.4 L129.3,257.1 L129.9,256.9 L130.4,256.7 L130.9,256.5 L131.4,256.4 L131.9,256.4 L132.4,256.7 L132.9,257.3 L133.4,258.1 L133.9,259.1 L134.4,260.0 L134.9,260.8 L135.4,261.4 L135.9,261.8 L136.4,262.1 L136.9,262.3 L137.4,262.3 L137.9,262.4 L137.9,262.4Z" fill="rgba(100,128,128,0.7)" stroke="#2a2a2a" stroke-width="0.45"/>
<path d="M122.2,262.4 L122.2,262.4 L122.7,262.4 L123.2,262.3 L123.7,262.2 L124.2,262.1 L124.8,262.0 L125.3,261.8 L125.8,261.5 L126.3,261.2 L126.8,260.8 L127.3,260.3 L127.8,259.7 L128.3,259.1 L128.9,258.4 L129.4,257.7 L129.9,257.1 L130.4,256.6 L130.9,256.2 L131.4,256.0 L131.9,255.9 L132.4,256.3 L133.0,257.1 L133.5,258.2 L134.0,259.3 L134.5,260.3 L135.0,261.1 L135.5,261.6 L136.0,262.0 L136.5,262.2 L137.0,262.3 L137.6,262.4 L137.6,262.4Z" fill="rgba(212,70,104,0.8)" stroke="#4a1424" stroke-width="0.45"/>
<path d="M119.0,269.0 L119.0,269.0 L119.5,268.9 L120.0,268.9 L120.5,268.9 L121.0,268.9 L121.6,268.8 L122.1,268.7 L122.6,268.6 L123.1,268.5 L123.6,268.4 L124.1,268.2 L124.6,268.0 L125.1,267.7 L125.6,267.4 L126.1,267.1 L126.7,266.7 L127.2,266.3 L127.7,265.9 L128.2,265.5 L128.7,265.1 L129.2,264.8 L129.7,264.5 L130.2,264.2 L130.7,264.0 L131.2,263.8 L131.8,263.8 L132.3,263.9 L132.8,264.4 L133.3,265.2 L133.8,266.0 L134.3,266.8 L134.8,267.5 L135.3,268.1 L135.8,268.4 L136.3,268.7 L136.9,268.8 L137.4,268.9 L137.9,269.0 L137.9,269.0Z" fill="rgba(100,128,128,0.7)" stroke="#2a2a2a" stroke-width="0.45"/>
<path d="M123.5,269.0 L123.5,269.0 L124.0,268.9 L124.5,268.9 L125.0,268.8 L125.5,268.7 L126.0,268.5 L126.5,268.3 L127.0,268.0 L127.5,267.5 L128.0,267.0 L128.5,266.4 L129.0,265.8 L129.5,265.1 L130.0,264.5 L130.5,263.9 L131.0,263.5 L131.5,263.3 L132.0,263.3 L132.5,263.7 L133.0,264.5 L133.5,265.4 L134.0,266.4 L134.5,267.2 L135.0,267.9 L135.5,268.3 L136.1,268.6 L136.6,268.8 L137.1,268.9 L137.6,269.0 L137.6,269.0Z" fill="rgba(212,70,104,0.8)" stroke="#4a1424" stroke-width="0.45"/>
<path d="M120.6,275.6 L120.6,275.5 L121.1,275.5 L121.6,275.5 L122.1,275.4 L122.6,275.4 L123.2,275.3 L123.7,275.3 L124.2,275.1 L124.7,275.0 L125.2,274.8 L125.7,274.6 L126.2,274.4 L126.7,274.1 L127.2,273.7 L127.7,273.4 L128.3,272.9 L128.8,272.5 L129.3,272.0 L129.8,271.6 L130.3,271.1 L130.8,270.7 L131.3,270.3 L131.8,270.0 L132.3,269.8 L132.8,269.6 L133.4,269.6 L133.9,269.7 L134.4,270.3 L134.9,271.1 L135.4,272.1 L135.9,273.0 L136.4,273.9 L136.9,274.5 L137.4,274.9 L137.9,275.2 L138.5,275.4 L139.0,275.5 L139.5,275.5 L139.5,275.6Z" fill="rgba(100,128,128,0.7)" stroke="#2a2a2a" stroke-width="0.45"/>
<path d="M124.4,275.6 L124.4,275.5 L124.9,275.5 L125.5,275.4 L126.0,275.4 L126.5,275.3 L127.0,275.1 L127.5,274.9 L128.0,274.6 L128.5,274.2 L129.0,273.7 L129.5,273.1 L130.0,272.4 L130.5,271.7 L131.0,271.0 L131.5,270.3 L132.1,269.8 L132.6,269.3 L133.1,269.1 L133.6,269.1 L134.1,269.5 L134.6,270.3 L135.1,271.4 L135.6,272.5 L136.1,273.5 L136.6,274.3 L137.1,274.8 L137.6,275.2 L138.1,275.4 L138.7,275.5 L139.2,275.5 L139.2,275.6Z" fill="rgba(212,70,104,0.8)" stroke="#4a1424" stroke-width="0.45"/>
<path d="M113.3,282.1 L113.3,282.1 L113.8,282.1 L114.3,282.1 L114.8,282.1 L115.3,282.1 L115.8,282.0 L116.3,282.0 L116.8,282.0 L117.4,281.9 L117.9,281.9 L118.4,281.8 L118.9,281.8 L119.4,281.7 L119.9,281.6 L120.4,281.5 L120.9,281.4 L121.4,281.3 L121.9,281.2 L122.4,281.0 L122.9,280.8 L123.4,280.7 L123.9,280.5 L124.4,280.3 L125.0,280.0 L125.5,279.8 L126.0,279.6 L126.5,279.4 L127.0,279.1 L127.5,278.9 L128.0,278.7 L128.5,278.4 L129.0,278.2 L129.5,278.1 L130.0,277.9 L130.5,277.8 L131.0,277.7 L131.5,277.6 L132.0,277.5 L132.6,277.5 L133.1,277.6 L133.6,277.7 L134.1,278.0 L134.6,278.3 L135.1,278.6 L135.6,279.0 L136.1,279.4 L136.6,279.8 L137.1,280.2 L137.6,280.6 L138.1,280.9 L138.6,281.1 L139.1,281.4 L139.6,281.6 L140.2,281.7 L140.7,281.8 L141.2,281.9 L141.7,282.0 L142.2,282.0 L142.7,282.1 L143.2,282.1 L143.7,282.1 L143.7,282.1Z" fill="rgba(100,128,128,0.7)" stroke="#2a2a2a" stroke-width="0.45"/>
<path d="M122.5,282.1 L122.5,282.1 L123.0,282.1 L123.5,282.1 L124.0,282.0 L124.5,282.0 L125.0,281.9 L125.5,281.8 L126.0,281.7 L126.5,281.5 L127.0,281.3 L127.5,281.0 L128.0,280.7 L128.5,280.3 L129.0,279.9 L129.5,279.5 L130.0,279.1 L130.5,278.6 L131.0,278.2 L131.5,277.8 L132.1,277.5 L132.6,277.3 L133.1,277.2 L133.6,277.1 L134.1,277.3 L134.6,277.7 L135.1,278.2 L135.6,278.8 L136.1,279.4 L136.6,280.0 L137.1,280.6 L137.6,281.0 L138.1,281.4 L138.6,281.6 L139.1,281.8 L139.6,281.9 L140.1,282.0 L140.6,282.1 L141.1,282.1 L141.1,282.1Z" fill="rgba(212,70,104,0.8)" stroke="#4a1424" stroke-width="0.45"/>
<path d="M122.2,288.7 L122.2,288.7 L122.7,288.6 L123.2,288.6 L123.7,288.6 L124.2,288.5 L124.8,288.5 L125.3,288.4 L125.8,288.2 L126.3,288.1 L126.8,287.9 L127.3,287.7 L127.8,287.4 L128.3,287.1 L128.8,286.7 L129.3,286.3 L129.9,285.9 L130.4,285.4 L130.9,284.9 L131.4,284.4 L131.9,283.9 L132.4,283.4 L132.9,283.0 L133.4,282.7 L133.9,282.4 L134.4,282.3 L135.0,282.2 L135.5,282.4 L136.0,283.0 L136.5,283.9 L137.0,285.0 L137.5,286.0 L138.0,286.9 L138.5,287.5 L139.0,288.0 L139.5,288.3 L140.1,288.5 L140.6,288.6 L141.1,288.7 L141.1,288.7Z" fill="rgba(100,128,128,0.7)" stroke="#2a2a2a" stroke-width="0.45"/>
<path d="M126.0,288.7 L126.0,288.7 L126.5,288.6 L127.0,288.6 L127.5,288.5 L128.0,288.4 L128.5,288.2 L129.0,288.0 L129.5,287.6 L130.1,287.2 L130.6,286.7 L131.1,286.1 L131.6,285.4 L132.1,284.7 L132.6,283.9 L133.1,283.2 L133.6,282.6 L134.1,282.1 L134.6,281.8 L135.1,281.7 L135.6,282.0 L136.1,282.7 L136.6,283.7 L137.1,284.8 L137.6,285.9 L138.1,286.8 L138.6,287.5 L139.1,288.0 L139.6,288.3 L140.1,288.5 L140.6,288.6 L141.1,288.7 L141.1,288.7Z" fill="rgba(212,70,104,0.8)" stroke="#4a1424" stroke-width="0.45"/>
<path d="M136.3,295.3 L136.3,295.3 L136.8,295.2 L137.3,295.2 L137.8,295.1 L138.3,295.1 L138.8,294.9 L139.3,294.8 L139.8,294.5 L140.3,294.2 L140.8,293.9 L141.3,293.5 L141.9,293.1 L142.4,292.7 L142.9,292.3 L143.4,292.1 L143.9,292.0 L144.4,292.0 L144.9,292.3 L145.4,292.7 L145.9,293.1 L146.4,293.6 L146.9,294.1 L147.4,294.5 L147.9,294.8 L148.4,295.0 L148.9,295.1 L149.4,295.2 L149.9,295.2 L150.4,295.3 L150.4,295.3Z" fill="rgba(100,128,128,0.7)" stroke="#2a2a2a" stroke-width="0.45"/>
<path d="M125.4,295.3 L125.4,295.2 L125.9,295.2 L126.4,295.1 L126.9,295.0 L127.4,294.7 L128.0,294.4 L128.5,293.8 L129.0,293.2 L129.5,292.3 L130.0,291.5 L130.5,290.6 L131.0,290.0 L131.5,289.6 L132.1,289.6 L132.6,290.0 L133.1,290.6 L133.6,291.5 L134.1,292.3 L134.6,293.2 L135.1,293.8 L135.6,294.4 L136.2,294.7 L136.7,295.0 L137.2,295.1 L137.7,295.2 L138.2,295.2 L138.2,295.3Z" fill="rgba(212,70,104,0.8)" stroke="#4a1424" stroke-width="0.45"/>
<path d="M137.6,301.8 L137.6,301.8 L138.1,301.7 L138.6,301.6 L139.1,301.3 L139.6,300.9 L140.2,300.3 L140.7,299.5 L141.2,298.3 L141.7,296.9 L142.2,295.5 L142.7,294.1 L143.2,293.0 L143.7,292.4 L144.3,292.4 L144.8,293.0 L145.3,294.1 L145.8,295.5 L146.3,296.9 L146.8,298.3 L147.3,299.5 L147.8,300.3 L148.4,300.9 L148.9,301.3 L149.4,301.6 L149.9,301.7 L150.4,301.8 L150.4,301.8Z" fill="rgba(100,128,128,0.7)" stroke="#2a2a2a" stroke-width="0.45"/>
<path d="M130.6,301.8 L130.6,301.8 L131.1,301.8 L131.6,301.7 L132.1,301.7 L132.6,301.5 L133.1,301.4 L133.6,301.1 L134.1,300.8 L134.6,300.4 L135.1,299.8 L135.6,299.3 L136.1,298.7 L136.6,298.1 L137.1,297.6 L137.6,297.2 L138.1,297.1 L138.6,297.1 L139.1,297.3 L139.6,297.6 L140.1,298.1 L140.6,298.6 L141.1,299.2 L141.6,299.7 L142.1,300.2 L142.6,300.6 L143.1,301.0 L143.6,301.2 L144.1,301.4 L144.6,301.6 L145.1,301.7 L145.6,301.7 L146.1,301.8 L146.6,301.8 L146.6,301.8Z" fill="rgba(212,70,104,0.8)" stroke="#4a1424" stroke-width="0.45"/>
<path d="M128.0,308.4 L128.0,308.4 L128.5,308.4 L129.0,308.4 L129.5,308.3 L130.0,308.3 L130.5,308.3 L131.0,308.2 L131.5,308.2 L132.0,308.1 L132.5,308.1 L133.0,308.0 L133.5,307.9 L134.0,307.7 L134.5,307.6 L135.1,307.4 L135.6,307.3 L136.1,307.0 L136.6,306.8 L137.1,306.6 L137.6,306.3 L138.1,306.0 L138.6,305.7 L139.1,305.4 L139.6,305.2 L140.1,304.9 L140.6,304.6 L141.1,304.4 L141.6,304.1 L142.1,303.9 L142.6,303.8 L143.1,303.7 L143.6,303.6 L144.1,303.6 L144.6,303.8 L145.1,304.1 L145.6,304.6 L146.1,305.2 L146.6,305.8 L147.1,306.4 L147.6,306.9 L148.2,307.3 L148.7,307.7 L149.2,307.9 L149.7,308.1 L150.2,308.2 L150.7,308.3 L151.2,308.4 L151.7,308.4 L151.7,308.4Z" fill="rgba(100,128,128,0.7)" stroke="#2a2a2a" stroke-width="0.45"/>
<path d="M132.5,308.4 L132.5,308.4 L133.0,308.4 L133.5,308.3 L134.0,308.3 L134.5,308.3 L135.0,308.2 L135.5,308.1 L136.0,308.0 L136.5,307.8 L137.0,307.6 L137.5,307.4 L138.0,307.1 L138.5,306.8 L139.0,306.4 L139.5,306.0 L140.0,305.6 L140.5,305.2 L141.0,304.7 L141.5,304.3 L142.0,303.9 L142.5,303.6 L143.0,303.4 L143.5,303.3 L144.0,303.2 L144.5,303.4 L145.0,303.7 L145.5,304.3 L146.0,305.0 L146.5,305.7 L147.0,306.4 L147.5,307.0 L148.0,307.4 L148.5,307.8 L149.0,308.0 L149.5,308.2 L150.0,308.3 L150.5,308.3 L151.0,308.4 L151.0,308.4Z" fill="rgba(212,70,104,0.8)" stroke="#4a1424" stroke-width="0.45"/>
<path d="M128.0,315.0 L128.0,314.9 L128.5,314.9 L129.0,314.9 L129.5,314.9 L130.0,314.9 L130.5,314.8 L131.0,314.8 L131.5,314.7 L132.0,314.7 L132.5,314.6 L133.0,314.5 L133.5,314.4 L134.0,314.2 L134.5,314.1 L135.1,313.9 L135.6,313.7 L136.1,313.4 L136.6,313.2 L137.1,312.9 L137.6,312.6 L138.1,312.3 L138.6,311.9 L139.1,311.6 L139.6,311.3 L140.1,310.9 L140.6,310.6 L141.1,310.3 L141.6,310.1 L142.1,309.9 L142.6,309.7 L143.1,309.6 L143.6,309.5 L144.1,309.5 L144.6,309.7 L145.1,310.1 L145.6,310.6 L146.1,311.3 L146.6,312.0 L147.1,312.7 L147.6,313.2 L148.2,313.7 L148.7,314.1 L149.2,314.4 L149.7,314.6 L150.2,314.8 L150.7,314.9 L151.2,314.9 L151.7,314.9 L151.7,315.0Z" fill="rgba(100,128,128,0.7)" stroke="#2a2a2a" stroke-width="0.45"/>
<path d="M133.8,315.0 L133.8,314.9 L134.3,314.9 L134.8,314.9 L135.3,314.8 L135.8,314.8 L136.3,314.6 L136.8,314.5 L137.3,314.3 L137.8,314.0 L138.3,313.7 L138.8,313.3 L139.4,312.9 L139.9,312.4 L140.4,311.8 L140.9,311.3 L141.4,310.7 L141.9,310.2 L142.4,309.7 L142.9,309.3 L143.4,309.1 L143.9,309.0 L144.4,309.1 L144.9,309.5 L145.4,310.2 L146.0,310.9 L146.5,311.8 L147.0,312.6 L147.5,313.3 L148.0,313.8 L148.5,314.2 L149.0,314.5 L149.5,314.7 L150.0,314.8 L150.5,314.9 L151.0,314.9 L151.0,315.0Z" fill="rgba(212,70,104,0.8)" stroke="#4a1424" stroke-width="0.45"/>
<path d="M128.8,321.6 L128.8,321.5 L129.3,321.5 L129.8,321.5 L130.3,321.5 L130.8,321.4 L131.3,321.4 L131.8,321.4 L132.3,321.3 L132.8,321.2 L133.3,321.1 L133.8,321.0 L134.3,320.9 L134.8,320.8 L135.3,320.6 L135.9,320.4 L136.4,320.2 L136.9,319.9 L137.4,319.6 L137.9,319.3 L138.4,319.0 L138.9,318.7 L139.4,318.3 L139.9,318.0 L140.4,317.6 L140.9,317.3 L141.4,316.9 L141.9,316.6 L142.4,316.4 L142.9,316.2 L143.4,316.0 L143.9,315.8 L144.4,315.8 L144.9,315.8 L145.4,315.9 L145.9,316.4 L146.4,316.9 L146.9,317.6 L147.4,318.4 L147.9,319.1 L148.4,319.7 L149.0,320.3 L149.5,320.7 L150.0,321.0 L150.5,321.2 L151.0,321.3 L151.5,321.4 L152.0,321.5 L152.5,321.5 L152.5,321.6Z" fill="rgba(100,128,128,0.7)" stroke="#2a2a2a" stroke-width="0.45"/>
<path d="M135.8,321.6 L135.8,321.5 L136.4,321.5 L136.9,321.4 L137.4,321.4 L137.9,321.3 L138.4,321.1 L138.9,320.9 L139.4,320.6 L139.9,320.2 L140.4,319.7 L141.0,319.1 L141.5,318.5 L142.0,317.8 L142.5,317.1 L143.0,316.5 L143.5,316.0 L144.0,315.6 L144.5,315.4 L145.1,315.4 L145.6,315.8 L146.1,316.5 L146.6,317.4 L147.1,318.4 L147.6,319.2 L148.1,320.0 L148.6,320.6 L149.2,321.0 L149.7,321.2 L150.2,321.4 L150.7,321.5 L151.2,321.5 L151.2,321.6Z" fill="rgba(212,70,104,0.8)" stroke="#4a1424" stroke-width="0.45"/>
<path d="M140.9,328.1 L140.9,328.1 L141.4,328.0 L141.9,328.0 L142.4,327.8 L142.9,327.6 L143.4,327.3 L143.9,326.8 L144.4,326.2 L145.0,325.4 L145.5,324.6 L146.0,323.8 L146.5,323.2 L147.0,322.8 L147.5,322.7 L148.0,323.1 L148.5,323.8 L149.0,324.7 L149.5,325.6 L150.0,326.4 L150.5,327.0 L151.0,327.5 L151.5,327.8 L152.0,328.0 L152.6,328.0 L153.1,328.1 L153.1,328.1Z" fill="rgba(100,128,128,0.7)" stroke="#2a2a2a" stroke-width="0.45"/>
<path d="M132.5,328.1 L132.5,328.1 L133.1,328.1 L133.6,328.0 L134.1,327.8 L134.6,327.6 L135.1,327.2 L135.6,326.6 L136.1,325.9 L136.6,325.2 L137.2,324.4 L137.7,323.8 L138.2,323.5 L138.7,323.5 L139.2,323.7 L139.7,324.1 L140.2,324.3 L140.8,324.4 L141.3,324.2 L141.8,323.8 L142.3,323.3 L142.8,323.0 L143.3,323.0 L143.8,323.4 L144.3,324.0 L144.9,324.8 L145.4,325.7 L145.9,326.5 L146.4,327.1 L146.9,327.5 L147.4,327.8 L147.9,328.0 L148.4,328.0 L149.0,328.1 L149.0,328.1Z" fill="rgba(212,70,104,0.8)" stroke="#4a1424" stroke-width="0.45"/>
<path d="M135.3,334.7 L135.3,334.7 L135.8,334.6 L136.3,334.6 L136.8,334.6 L137.3,334.5 L137.8,334.4 L138.3,334.4 L138.8,334.2 L139.3,334.1 L139.8,333.9 L140.4,333.7 L140.9,333.4 L141.4,333.1 L141.9,332.8 L142.4,332.4 L142.9,331.9 L143.4,331.4 L143.9,331.0 L144.4,330.5 L144.9,330.0 L145.4,329.5 L145.9,329.1 L146.4,328.7 L146.9,328.5 L147.4,328.3 L147.9,328.2 L148.4,328.3 L148.9,328.7 L149.4,329.5 L150.0,330.5 L150.5,331.4 L151.0,332.4 L151.5,333.1 L152.0,333.7 L152.5,334.1 L153.0,334.4 L153.5,334.5 L154.0,334.6 L154.5,334.7 L154.5,334.7Z" fill="rgba(100,128,128,0.7)" stroke="#2a2a2a" stroke-width="0.45"/>
<path d="M139.1,334.7 L139.1,334.6 L139.7,334.6 L140.2,334.6 L140.7,334.5 L141.2,334.4 L141.7,334.2 L142.2,333.9 L142.7,333.6 L143.2,333.1 L143.7,332.6 L144.3,332.0 L144.8,331.2 L145.3,330.5 L145.8,329.7 L146.3,329.0 L146.8,328.4 L147.3,327.9 L147.8,327.7 L148.4,327.7 L148.9,328.2 L149.4,329.0 L149.9,330.0 L150.4,331.1 L150.9,332.1 L151.4,332.9 L151.9,333.6 L152.5,334.0 L153.0,334.3 L153.5,334.5 L154.0,334.6 L154.5,334.6 L154.5,334.7Z" fill="rgba(212,70,104,0.8)" stroke="#4a1424" stroke-width="0.45"/>
<path d="M132.9,341.3 L132.9,341.2 L133.4,341.2 L133.9,341.2 L134.4,341.2 L134.9,341.1 L135.4,341.1 L136.0,341.0 L136.5,341.0 L137.0,340.9 L137.5,340.8 L138.0,340.7 L138.5,340.5 L139.0,340.3 L139.5,340.1 L140.0,339.9 L140.5,339.7 L141.0,339.4 L141.6,339.1 L142.1,338.7 L142.6,338.3 L143.1,338.0 L143.6,337.6 L144.1,337.2 L144.6,336.8 L145.1,336.4 L145.6,336.0 L146.1,335.7 L146.6,335.4 L147.2,335.1 L147.7,335.0 L148.2,334.8 L148.7,334.8 L149.2,334.8 L149.7,335.3 L150.2,336.0 L150.7,337.0 L151.2,338.0 L151.7,338.9 L152.2,339.7 L152.8,340.2 L153.3,340.7 L153.8,340.9 L154.3,341.1 L154.8,341.2 L155.3,341.2 L155.3,341.3Z" fill="rgba(100,128,128,0.7)" stroke="#2a2a2a" stroke-width="0.45"/>
<path d="M139.9,341.3 L139.9,341.2 L140.5,341.2 L141.0,341.1 L141.5,341.1 L142.0,340.9 L142.5,340.7 L143.0,340.5 L143.5,340.2 L144.0,339.7 L144.5,339.2 L145.1,338.5 L145.6,337.8 L146.1,337.0 L146.6,336.3 L147.1,335.6 L147.6,335.0 L148.1,334.5 L148.6,334.3 L149.2,334.3 L149.7,334.8 L150.2,335.6 L150.7,336.6 L151.2,337.7 L151.7,338.7 L152.2,339.5 L152.7,340.2 L153.3,340.6 L153.8,340.9 L154.3,341.1 L154.8,341.2 L155.3,341.2 L155.3,341.3Z" fill="rgba(212,70,104,0.8)" stroke="#4a1424" stroke-width="0.45"/>
<path d="M138.6,347.8 L138.6,347.8 L139.1,347.8 L139.6,347.8 L140.1,347.7 L140.6,347.7 L141.1,347.7 L141.6,347.6 L142.1,347.6 L142.6,347.5 L143.1,347.4 L143.6,347.3 L144.1,347.2 L144.6,347.0 L145.1,346.8 L145.6,346.6 L146.1,346.4 L146.6,346.1 L147.1,345.9 L147.6,345.6 L148.1,345.2 L148.6,344.9 L149.1,344.5 L149.6,344.2 L150.1,343.8 L150.6,343.4 L151.1,343.1 L151.6,342.8 L152.1,342.5 L152.7,342.3 L153.2,342.1 L153.7,341.9 L154.2,341.9 L154.7,341.8 L155.2,342.1 L155.7,342.7 L156.2,343.6 L156.7,344.5 L157.2,345.4 L157.7,346.2 L158.2,346.8 L158.7,347.2 L159.2,347.5 L159.7,347.7 L160.2,347.7 L160.7,347.8 L160.7,347.8Z" fill="rgba(100,128,128,0.7)" stroke="#2a2a2a" stroke-width="0.45"/>
<path d="M134.7,347.8 L134.7,347.8 L135.2,347.8 L135.7,347.8 L136.2,347.8 L136.7,347.8 L137.2,347.7 L137.7,347.6 L138.2,347.6 L138.7,347.5 L139.2,347.3 L139.7,347.2 L140.2,347.0 L140.7,346.8 L141.2,346.6 L141.7,346.5 L142.2,346.4 L142.7,346.3 L143.2,346.3 L143.7,346.3 L144.2,346.4 L144.7,346.5 L145.2,346.6 L145.7,346.6 L146.2,346.7 L146.7,346.7 L147.2,346.6 L147.7,346.5 L148.2,346.3 L148.7,346.0 L149.2,345.6 L149.7,345.2 L150.2,344.7 L150.7,344.2 L151.2,343.7 L151.7,343.1 L152.2,342.6 L152.7,342.2 L153.2,341.8 L153.7,341.5 L154.2,341.4 L154.7,341.3 L155.2,341.6 L155.7,342.3 L156.2,343.2 L156.7,344.3 L157.2,345.2 L157.7,346.1 L158.2,346.7 L158.7,347.2 L159.2,347.5 L159.7,347.6 L160.2,347.7 L160.7,347.8 L160.7,347.8Z" fill="rgba(212,70,104,0.8)" stroke="#4a1424" stroke-width="0.45"/>
<line x1="103.50" y1="211.00" x2="103.50" y2="352.60" stroke="#222" stroke-width="1"/>
<line x1="102.70" y1="352.50" x2="165.30" y2="352.50" stroke="#222" stroke-width="1"/>
<line x1="100.10" y1="223.50" x2="103.20" y2="223.50" stroke="#222" stroke-width="0.8"/>
<text x="97.60" y="225.00" font-size="6.1" text-anchor="end" fill="#2a2a2a">HSCP−MPP_c5</text>
<line x1="100.10" y1="229.50" x2="103.20" y2="229.50" stroke="#222" stroke-width="0.8"/>
<text x="97.60" y="231.57" font-size="6.1" text-anchor="end" fill="#2a2a2a">Basophil_c28</text>
<line x1="100.10" y1="236.50" x2="103.20" y2="236.50" stroke="#222" stroke-width="0.8"/>
<text x="97.60" y="238.14" font-size="6.1" text-anchor="end" fill="#2a2a2a">HSCP−MPP_c9</text>
<line x1="100.10" y1="242.50" x2="103.20" y2="242.50" stroke="#222" stroke-width="0.8"/>
<text x="97.60" y="244.71" font-size="6.1" text-anchor="end" fill="#2a2a2a">Myeloid progenitor cell_c14</text>
<line x1="100.10" y1="249.50" x2="103.20" y2="249.50" stroke="#222" stroke-width="0.8"/>
<text x="97.60" y="251.28" font-size="6.1" text-anchor="end" fill="#2a2a2a">Myeloid_progenitor_B</text>
<line x1="100.10" y1="255.50" x2="103.20" y2="255.50" stroke="#222" stroke-width="0.8"/>
<text x="97.60" y="257.85" font-size="6.1" text-anchor="end" fill="#2a2a2a">Myeloid_progenitor_A</text>
<line x1="100.10" y1="262.50" x2="103.20" y2="262.50" stroke="#222" stroke-width="0.8"/>
<text x="97.60" y="264.42" font-size="6.1" text-anchor="end" fill="#2a2a2a">Myeloid_progenitor_C</text>
<line x1="100.10" y1="268.50" x2="103.20" y2="268.50" stroke="#222" stroke-width="0.8"/>
<text x="97.60" y="270.99" font-size="6.1" text-anchor="end" fill="#2a2a2a">DC_c14</text>
<line x1="100.10" y1="275.50" x2="103.20" y2="275.50" stroke="#222" stroke-width="0.8"/>
<text x="97.60" y="277.56" font-size="6.1" text-anchor="end" fill="#2a2a2a">granulocytopoietic cell_c12</text>
<line x1="100.10" y1="282.50" x2="103.20" y2="282.50" stroke="#222" stroke-width="0.8"/>
<text x="97.60" y="284.13" font-size="6.1" text-anchor="end" fill="#2a2a2a">ProNeu1</text>
<line x1="100.10" y1="288.50" x2="103.20" y2="288.50" stroke="#222" stroke-width="0.8"/>
<text x="97.60" y="290.70" font-size="6.1" text-anchor="end" fill="#2a2a2a">Mono_c2</text>
<line x1="100.10" y1="295.50" x2="103.20" y2="295.50" stroke="#222" stroke-width="0.8"/>
<text x="97.60" y="297.27" font-size="6.1" text-anchor="end" fill="#2a2a2a">ProNeu2</text>
<line x1="100.10" y1="301.50" x2="103.20" y2="301.50" stroke="#222" stroke-width="0.8"/>
<text x="97.60" y="303.84" font-size="6.1" text-anchor="end" fill="#2a2a2a">BM Stage I neutrophil_c1</text>
<line x1="100.10" y1="308.50" x2="103.20" y2="308.50" stroke="#222" stroke-width="0.8"/>
<text x="97.60" y="310.41" font-size="6.1" text-anchor="end" fill="#2a2a2a">DC_c19</text>
<line x1="100.10" y1="314.50" x2="103.20" y2="314.50" stroke="#222" stroke-width="0.8"/>
<text x="97.60" y="316.98" font-size="6.1" text-anchor="end" fill="#2a2a2a">Mono_c22</text>
<line x1="100.10" y1="321.50" x2="103.20" y2="321.50" stroke="#222" stroke-width="0.8"/>
<text x="97.60" y="323.55" font-size="6.1" text-anchor="end" fill="#2a2a2a">granulocyte_c7</text>
<line x1="100.10" y1="328.50" x2="103.20" y2="328.50" stroke="#222" stroke-width="0.8"/>
<text x="97.60" y="330.12" font-size="6.1" text-anchor="end" fill="#2a2a2a">DC_c18</text>
<line x1="100.10" y1="334.50" x2="103.20" y2="334.50" stroke="#222" stroke-width="0.8"/>
<text x="97.60" y="336.69" font-size="6.1" text-anchor="end" fill="#2a2a2a">Macrophage_c13</text>
<line x1="100.10" y1="341.50" x2="103.20" y2="341.50" stroke="#222" stroke-width="0.8"/>
<text x="97.60" y="343.26" font-size="6.1" text-anchor="end" fill="#2a2a2a">monocyte_c25</text>
<line x1="100.10" y1="347.50" x2="103.20" y2="347.50" stroke="#222" stroke-width="0.8"/>
<text x="97.60" y="349.83" font-size="6.1" text-anchor="end" fill="#2a2a2a">BM Stage I neutrophil_c21</text>
<line x1="110.50" y1="352.10" x2="110.50" y2="354.80" stroke="#222" stroke-width="0.8"/>
<text x="110.40" y="363.20" font-size="6" text-anchor="middle" fill="#2a2a2a">0.0</text>
<line x1="123.50" y1="352.10" x2="123.50" y2="354.80" stroke="#222" stroke-width="0.8"/>
<text x="123.25" y="363.20" font-size="6" text-anchor="middle" fill="#2a2a2a">0.2</text>
<line x1="136.50" y1="352.10" x2="136.50" y2="354.80" stroke="#222" stroke-width="0.8"/>
<text x="136.10" y="363.20" font-size="6" text-anchor="middle" fill="#2a2a2a">0.4</text>
<line x1="148.50" y1="352.10" x2="148.50" y2="354.80" stroke="#222" stroke-width="0.8"/>
<text x="148.95" y="363.20" font-size="6" text-anchor="middle" fill="#2a2a2a">0.6</text>
<line x1="161.50" y1="352.10" x2="161.50" y2="354.80" stroke="#222" stroke-width="0.8"/>
<text x="161.80" y="363.20" font-size="6" text-anchor="middle" fill="#2a2a2a">0.8</text>
<text x="134.30" y="374.00" font-size="7.2" text-anchor="middle" font-weight="bold" fill="#2a2a2a" textLength="42.00" lengthAdjust="spacingAndGlyphs">Pseudotime URD</text>
<rect x="100.70" y="379.90" width="4.90" height="4.60" fill="#a0a0a4"/>
<text x="109.00" y="384.40" font-size="6.2" fill="#2a2a2a">PBS</text>
<rect x="128.00" y="379.90" width="5.30" height="4.60" fill="#d86070"/>
<text x="136.40" y="384.40" font-size="6.0" fill="#2a2a2a">Pam3CSK4</text>
<text x="204.60" y="181.85" font-size="11.5" font-weight="bold" fill="#000">E</text>
<line x1="238.50" y1="196.70" x2="238.50" y2="263.00" stroke="#222" stroke-width="1"/>
<line x1="238.00" y1="262.50" x2="303.80" y2="262.50" stroke="#222" stroke-width="1"/>
<line x1="235.70" y1="204.50" x2="238.50" y2="204.50" stroke="#222" stroke-width="0.8"/>
<text x="233.40" y="206.80" font-size="6" text-anchor="end" fill="#2a2a2a">1</text>
<line x1="235.70" y1="225.50" x2="238.50" y2="225.50" stroke="#222" stroke-width="0.8"/>
<text x="233.40" y="227.20" font-size="6" text-anchor="end" fill="#2a2a2a">0</text>
<line x1="235.70" y1="245.50" x2="238.50" y2="245.50" stroke="#222" stroke-width="0.8"/>
<text x="233.40" y="247.60" font-size="6" text-anchor="end" fill="#2a2a2a">−1</text>
<line x1="241.50" y1="262.50" x2="241.50" y2="265.30" stroke="#222" stroke-width="0.8"/>
<text x="241.20" y="273.70" font-size="6" text-anchor="middle" fill="#2a2a2a">0.0</text>
<line x1="256.50" y1="262.50" x2="256.50" y2="265.30" stroke="#222" stroke-width="0.8"/>
<text x="256.98" y="273.70" font-size="6" text-anchor="middle" fill="#2a2a2a">0.2</text>
<line x1="272.50" y1="262.50" x2="272.50" y2="265.30" stroke="#222" stroke-width="0.8"/>
<text x="272.76" y="273.70" font-size="6" text-anchor="middle" fill="#2a2a2a">0.4</text>
<line x1="288.50" y1="262.50" x2="288.50" y2="265.30" stroke="#222" stroke-width="0.8"/>
<text x="288.54" y="273.70" font-size="6" text-anchor="middle" fill="#2a2a2a">0.6</text>
<text x="271.58" y="284.50" font-size="7.6" text-anchor="middle" font-weight="bold" fill="#333" textLength="29.30" lengthAdjust="spacingAndGlyphs">Pseudotime</text>
<text x="219.90" y="229.40" font-size="8.4" text-anchor="middle" font-weight="bold" fill="#2a2a2a" textLength="9.80" lengthAdjust="spacingAndGlyphs" transform="rotate(-90 219.90 229.40)">Klf4</text>
<path d="M241.20,200.62 C242.51,200.79 246.46,201.13 249.09,201.64 C251.72,202.15 254.74,202.49 256.98,203.68 C259.22,204.87 260.53,206.50 262.50,208.78 C264.48,211.06 267.11,216.06 268.81,217.35 C270.52,218.64 271.44,216.26 272.76,216.53 C274.07,216.80 275.39,215.34 276.70,218.98 C278.02,222.62 279.60,234.79 280.65,238.36 C281.70,241.93 282.10,240.74 283.02,240.40 C283.94,240.06 284.99,236.15 286.17,236.32 C287.36,236.49 288.74,239.89 290.12,241.42 C291.50,242.95 293.14,244.89 294.46,245.50 C295.77,246.11 296.98,245.57 298.01,245.09 C299.03,244.62 300.18,243.05 300.61,242.64" fill="none" stroke="#3d5c5c" stroke-width="1.15" stroke-linejoin="round"/>
<path d="M241.20,205.31 C242.51,205.14 246.46,204.60 249.09,204.29 C251.72,203.99 254.35,203.51 256.98,203.48 C259.61,203.44 262.63,203.54 264.87,204.09 C267.11,204.63 268.81,205.11 270.39,206.74 C271.97,208.37 273.15,210.82 274.34,213.88 C275.52,216.94 276.57,222.21 277.49,225.10 C278.41,227.99 278.87,231.39 279.86,231.22 C280.85,231.05 282.23,224.59 283.41,224.08 C284.59,223.57 285.65,225.95 286.96,228.16 C288.28,230.37 290.05,234.52 291.30,237.34 C292.55,240.16 293.23,241.96 294.46,245.09 C295.68,248.22 297.94,254.27 298.64,256.11" fill="none" stroke="#b0204c" stroke-width="1.15" stroke-linejoin="round"/>
<rect x="276.50" y="195.30" width="18.00" height="4.40" fill="#fef8d2" rx="1.5"/>
<circle cx="240.90" cy="197.50" r="0.95" fill="#111"/>
<circle cx="251.30" cy="197.50" r="0.95" fill="#a04060"/>
<circle cx="253.30" cy="197.50" r="0.95" fill="#c05070"/>
<circle cx="256.50" cy="197.50" r="0.95" fill="#c8c0c8"/>
<circle cx="263.50" cy="197.50" r="0.95" fill="#c86070"/>
<circle cx="266.00" cy="197.50" r="0.95" fill="#802030"/>
<circle cx="268.50" cy="197.50" r="0.95" fill="#602020"/>
<circle cx="271.30" cy="197.50" r="0.95" fill="#a03040"/>
<circle cx="279.00" cy="197.50" r="0.95" fill="#5a4a10"/>
<circle cx="282.00" cy="197.50" r="0.95" fill="#3a2a10"/>
<circle cx="285.30" cy="197.50" r="0.95" fill="#5a3a10"/>
<circle cx="288.20" cy="197.50" r="0.95" fill="#3a2a10"/>
<circle cx="291.00" cy="197.50" r="0.95" fill="#7a6a20"/>
<path d="M255.30,195.30 L255.30,194.10 L272.60,194.10 L272.60,195.30" fill="none" stroke="#333" stroke-width="0.6"/>
<text x="263.95" y="192.20" font-size="6" text-anchor="middle" fill="#2a2a2a">m1</text>
<path d="M279.00,195.30 L279.00,194.10 L293.40,194.10 L293.40,195.30" fill="none" stroke="#333" stroke-width="0.6"/>
<text x="286.20" y="192.20" font-size="6" text-anchor="middle" fill="#2a2a2a">m2</text>
<line x1="347.50" y1="196.70" x2="347.50" y2="263.00" stroke="#222" stroke-width="1"/>
<line x1="346.90" y1="262.50" x2="411.60" y2="262.50" stroke="#222" stroke-width="1"/>
<line x1="344.60" y1="211.50" x2="347.40" y2="211.50" stroke="#222" stroke-width="0.8"/>
<text x="340.80" y="213.20" font-size="6" text-anchor="end" fill="#2a2a2a">1</text>
<line x1="344.60" y1="226.50" x2="347.40" y2="226.50" stroke="#222" stroke-width="0.8"/>
<text x="340.80" y="228.80" font-size="6" text-anchor="end" fill="#2a2a2a">0</text>
<line x1="344.60" y1="242.50" x2="347.40" y2="242.50" stroke="#222" stroke-width="0.8"/>
<text x="340.80" y="244.40" font-size="6" text-anchor="end" fill="#2a2a2a">−1</text>
<line x1="344.60" y1="257.50" x2="347.40" y2="257.50" stroke="#222" stroke-width="0.8"/>
<text x="340.80" y="260.00" font-size="6" text-anchor="end" fill="#2a2a2a">−2</text>
<line x1="349.50" y1="262.50" x2="349.50" y2="265.30" stroke="#222" stroke-width="0.8"/>
<text x="349.90" y="273.70" font-size="6" text-anchor="middle" fill="#2a2a2a">0.0</text>
<line x1="365.50" y1="262.50" x2="365.50" y2="265.30" stroke="#222" stroke-width="0.8"/>
<text x="365.62" y="273.70" font-size="6" text-anchor="middle" fill="#2a2a2a">0.2</text>
<line x1="381.50" y1="262.50" x2="381.50" y2="265.30" stroke="#222" stroke-width="0.8"/>
<text x="381.34" y="273.70" font-size="6" text-anchor="middle" fill="#2a2a2a">0.4</text>
<line x1="397.50" y1="262.50" x2="397.50" y2="265.30" stroke="#222" stroke-width="0.8"/>
<text x="397.06" y="273.70" font-size="6" text-anchor="middle" fill="#2a2a2a">0.6</text>
<text x="380.16" y="284.50" font-size="7.6" text-anchor="middle" font-weight="bold" fill="#333" textLength="29.30" lengthAdjust="spacingAndGlyphs">Pseudotime</text>
<text x="329.50" y="229.60" font-size="8.8" text-anchor="middle" font-weight="bold" fill="#2a2a2a" textLength="10.40" lengthAdjust="spacingAndGlyphs" transform="rotate(-90 329.50 229.60)">Irf8</text>
<path d="M349.90,244.17 C351.21,244.12 355.14,244.12 357.76,243.86 C360.38,243.60 363.00,243.26 365.62,242.61 C368.24,241.96 370.86,241.05 373.48,239.96 C376.10,238.87 379.38,237.62 381.34,236.06 C383.30,234.50 384.09,232.29 385.27,230.60 C386.45,228.91 387.37,226.44 388.41,225.92 C389.46,225.40 390.51,228.13 391.56,227.48 C392.61,226.83 393.65,224.10 394.70,222.02 C395.75,219.94 396.80,216.87 397.85,215.00 C398.89,213.13 399.94,210.53 400.99,210.79 C402.04,211.05 403.22,214.17 404.13,216.56 C405.05,218.95 405.57,219.55 406.49,225.14 C407.41,230.73 409.11,245.94 409.64,250.10" fill="none" stroke="#3d5c5c" stroke-width="1.15" stroke-linejoin="round"/>
<path d="M349.90,240.74 C351.21,240.74 355.14,240.87 357.76,240.74 C360.38,240.61 363.00,240.43 365.62,239.96 C368.24,239.49 370.86,238.71 373.48,237.93 C376.10,237.15 379.38,236.76 381.34,235.28 C383.30,233.80 384.09,230.78 385.27,229.04 C386.45,227.30 387.50,225.58 388.41,224.83 C389.33,224.07 389.86,225.37 390.77,224.52 C391.69,223.66 392.87,221.27 393.92,219.68 C394.96,218.09 396.21,218.25 397.06,215.00 C397.91,211.75 398.24,201.74 399.02,200.18 C399.81,198.62 400.79,202.52 401.78,205.64 C402.76,208.76 403.81,210.45 404.92,218.90 C406.03,227.35 407.87,250.10 408.46,256.34" fill="none" stroke="#b0204c" stroke-width="1.15" stroke-linejoin="round"/>
<rect x="385.50" y="195.20" width="18.00" height="4.40" fill="#fef8d2" rx="1.5"/>
<circle cx="349.60" cy="197.40" r="0.95" fill="#111"/>
<circle cx="360.30" cy="197.40" r="0.95" fill="#7a7a7a"/>
<circle cx="362.50" cy="197.40" r="0.95" fill="#8a8a8a"/>
<circle cx="365.60" cy="197.40" r="0.95" fill="#b0b0b0"/>
<circle cx="372.20" cy="197.40" r="0.95" fill="#c86a50"/>
<circle cx="374.80" cy="197.40" r="0.95" fill="#a04030"/>
<circle cx="377.40" cy="197.40" r="0.95" fill="#d07060"/>
<circle cx="380.00" cy="197.40" r="0.95" fill="#904030"/>
<circle cx="387.00" cy="197.40" r="0.95" fill="#5a4a10"/>
<circle cx="390.00" cy="197.40" r="0.95" fill="#3a2a10"/>
<circle cx="393.00" cy="197.40" r="0.95" fill="#5a3a10"/>
<circle cx="396.00" cy="197.40" r="0.95" fill="#3a2a10"/>
<circle cx="399.00" cy="197.40" r="0.95" fill="#7a6a20"/>
<circle cx="402.00" cy="197.40" r="0.95" fill="#e0c040"/>
<path d="M387.80,195.30 L387.80,194.10 L402.00,194.10 L402.00,195.30" fill="none" stroke="#333" stroke-width="0.6"/>
<text x="394.90" y="192.20" font-size="6" text-anchor="middle" fill="#2a2a2a">m2</text>
<rect x="432.30" y="216.80" width="5.10" height="3.60" fill="#3d5c5c"/>
<text x="440.40" y="220.60" font-size="6" fill="#2a2a2a">PBS</text>
<rect x="432.30" y="223.80" width="5.10" height="3.60" fill="#b0204c"/>
<text x="440.40" y="227.60" font-size="6" fill="#2a2a2a">Pam3CSK4</text>
<text x="213.10" y="302.95" font-size="11.5" font-weight="bold" fill="#000">F</text>
<line x1="237.50" y1="316.90" x2="237.50" y2="386.00" stroke="#222" stroke-width="1"/>
<line x1="237.40" y1="385.50" x2="302.80" y2="385.50" stroke="#222" stroke-width="1"/>
<line x1="235.10" y1="318.50" x2="237.90" y2="318.50" stroke="#222" stroke-width="0.8"/>
<text x="232.60" y="321.00" font-size="6" text-anchor="end" fill="#2a2a2a">4</text>
<line x1="235.10" y1="331.50" x2="237.90" y2="331.50" stroke="#222" stroke-width="0.8"/>
<text x="232.60" y="333.35" font-size="6" text-anchor="end" fill="#2a2a2a">3</text>
<line x1="235.10" y1="343.50" x2="237.90" y2="343.50" stroke="#222" stroke-width="0.8"/>
<text x="232.60" y="345.70" font-size="6" text-anchor="end" fill="#2a2a2a">2</text>
<line x1="235.10" y1="355.50" x2="237.90" y2="355.50" stroke="#222" stroke-width="0.8"/>
<text x="232.60" y="358.05" font-size="6" text-anchor="end" fill="#2a2a2a">1</text>
<line x1="235.10" y1="368.50" x2="237.90" y2="368.50" stroke="#222" stroke-width="0.8"/>
<text x="232.60" y="370.40" font-size="6" text-anchor="end" fill="#2a2a2a">0</text>
<line x1="235.10" y1="380.50" x2="237.90" y2="380.50" stroke="#222" stroke-width="0.8"/>
<text x="232.60" y="382.75" font-size="6" text-anchor="end" fill="#2a2a2a">−1</text>
<line x1="240.50" y1="385.50" x2="240.50" y2="388.30" stroke="#222" stroke-width="0.8"/>
<text x="240.30" y="396.70" font-size="6" text-anchor="middle" fill="#2a2a2a">0.0</text>
<line x1="256.50" y1="385.50" x2="256.50" y2="388.30" stroke="#222" stroke-width="0.8"/>
<text x="256.20" y="396.70" font-size="6" text-anchor="middle" fill="#2a2a2a">0.2</text>
<line x1="272.50" y1="385.50" x2="272.50" y2="388.30" stroke="#222" stroke-width="0.8"/>
<text x="272.10" y="396.70" font-size="6" text-anchor="middle" fill="#2a2a2a">0.4</text>
<line x1="288.50" y1="385.50" x2="288.50" y2="388.30" stroke="#222" stroke-width="0.8"/>
<text x="288.00" y="396.70" font-size="6" text-anchor="middle" fill="#2a2a2a">0.6</text>
<text x="270.91" y="407.50" font-size="7.6" text-anchor="middle" font-weight="bold" fill="#333" textLength="29.30" lengthAdjust="spacingAndGlyphs">Pseudotime</text>
<text x="219.40" y="351.00" font-size="9.0" text-anchor="middle" font-weight="bold" fill="#2a2a2a" textLength="19.00" lengthAdjust="spacingAndGlyphs" transform="rotate(-90 219.40 351.00)">C/ebpa</text>
<path d="M240.30,381.88 C241.62,381.72 245.60,381.21 248.25,380.90 C250.90,380.59 253.55,380.59 256.20,380.03 C258.85,379.48 261.90,378.59 264.15,377.56 C266.40,376.53 268.13,375.61 269.72,373.86 C271.31,372.11 272.50,369.64 273.69,367.06 C274.88,364.49 275.68,361.10 276.87,358.42 C278.06,355.74 279.65,351.42 280.85,351.01 C282.04,350.60 282.83,353.89 284.03,355.95 C285.22,358.01 286.81,361.61 288.00,363.36 C289.19,365.11 290.25,366.34 291.18,366.45 C292.11,366.55 292.50,366.76 293.56,363.98 C294.62,361.20 296.22,355.74 297.54,349.78 C298.87,343.81 300.85,331.76 301.51,328.16" fill="none" stroke="#3d5c5c" stroke-width="1.15" stroke-linejoin="round"/>
<path d="M240.30,381.88 C241.62,381.72 245.60,381.21 248.25,380.90 C250.90,380.59 253.55,380.59 256.20,380.03 C258.85,379.48 261.90,378.69 264.15,377.56 C266.40,376.43 268.13,375.40 269.72,373.24 C271.31,371.08 272.43,367.17 273.69,364.60 C274.95,362.02 276.21,358.01 277.27,357.80 C278.33,357.60 278.92,361.92 280.05,363.36 C281.18,364.80 282.97,365.73 284.03,366.45 C285.09,367.17 285.48,366.45 286.41,367.68 C287.34,368.92 288.40,374.99 289.59,373.86 C290.78,372.73 292.37,366.34 293.56,360.89 C294.76,355.44 295.75,347.31 296.75,341.13 C297.74,334.95 299.06,326.72 299.53,323.84" fill="none" stroke="#b0204c" stroke-width="1.15" stroke-linejoin="round"/>
<rect x="283.00" y="318.30" width="11.50" height="4.40" fill="#fef8d2" rx="1.5"/>
<circle cx="240.80" cy="320.50" r="0.95" fill="#111"/>
<circle cx="251.30" cy="320.50" r="0.95" fill="#7a7a7a"/>
<circle cx="253.60" cy="320.50" r="0.95" fill="#8a8a8a"/>
<circle cx="256.90" cy="320.50" r="0.95" fill="#a0a0a0"/>
<circle cx="262.80" cy="320.50" r="0.95" fill="#b05060"/>
<circle cx="265.20" cy="320.50" r="0.95" fill="#602020"/>
<circle cx="267.60" cy="320.50" r="0.95" fill="#803040"/>
<circle cx="269.60" cy="320.50" r="0.95" fill="#402020"/>
<circle cx="278.00" cy="320.50" r="0.95" fill="#5a3a20"/>
<circle cx="281.00" cy="320.50" r="0.95" fill="#3a2a10"/>
<circle cx="284.00" cy="320.50" r="0.95" fill="#7a2a10"/>
<circle cx="287.00" cy="320.50" r="0.95" fill="#3a2a10"/>
<circle cx="289.80" cy="320.50" r="0.95" fill="#4a3a10"/>
<circle cx="293.00" cy="320.50" r="0.95" fill="#e0d080"/>
<path d="M269.30,317.60 L269.30,316.40 L291.80,316.40 L291.80,317.60" fill="none" stroke="#333" stroke-width="0.6"/>
<text x="280.55" y="314.50" font-size="6" text-anchor="middle" fill="#2a2a2a">g1</text>
<line x1="351.50" y1="319.30" x2="351.50" y2="385.50" stroke="#222" stroke-width="1"/>
<line x1="351.10" y1="385.50" x2="414.50" y2="385.50" stroke="#222" stroke-width="1"/>
<line x1="348.80" y1="330.50" x2="351.60" y2="330.50" stroke="#222" stroke-width="0.8"/>
<text x="345.00" y="332.30" font-size="6" text-anchor="end" fill="#2a2a2a">1.0</text>
<line x1="348.80" y1="346.50" x2="351.60" y2="346.50" stroke="#222" stroke-width="0.8"/>
<text x="345.00" y="348.90" font-size="6" text-anchor="end" fill="#2a2a2a">0.5</text>
<line x1="348.80" y1="363.50" x2="351.60" y2="363.50" stroke="#222" stroke-width="0.8"/>
<text x="345.00" y="365.50" font-size="6" text-anchor="end" fill="#2a2a2a">0.0</text>
<line x1="348.80" y1="380.50" x2="351.60" y2="380.50" stroke="#222" stroke-width="0.8"/>
<text x="345.00" y="382.10" font-size="6" text-anchor="end" fill="#2a2a2a">−0.5</text>
<line x1="354.50" y1="385.00" x2="354.50" y2="387.80" stroke="#222" stroke-width="0.8"/>
<text x="354.00" y="396.20" font-size="6" text-anchor="middle" fill="#2a2a2a">0.0</text>
<line x1="369.50" y1="385.00" x2="369.50" y2="387.80" stroke="#222" stroke-width="0.8"/>
<text x="369.40" y="396.20" font-size="6" text-anchor="middle" fill="#2a2a2a">0.2</text>
<line x1="384.50" y1="385.00" x2="384.50" y2="387.80" stroke="#222" stroke-width="0.8"/>
<text x="384.80" y="396.20" font-size="6" text-anchor="middle" fill="#2a2a2a">0.4</text>
<line x1="400.50" y1="385.00" x2="400.50" y2="387.80" stroke="#222" stroke-width="0.8"/>
<text x="400.20" y="396.20" font-size="6" text-anchor="middle" fill="#2a2a2a">0.6</text>
<text x="383.64" y="407.00" font-size="7.6" text-anchor="middle" font-weight="bold" fill="#333" textLength="29.30" lengthAdjust="spacingAndGlyphs">Pseudotime</text>
<text x="328.50" y="351.30" font-size="8.8" text-anchor="middle" font-weight="bold" fill="#2a2a2a" textLength="10.20" lengthAdjust="spacingAndGlyphs" transform="rotate(-90 328.50 351.30)">Gfi1</text>
<path d="M354.00,377.34 C355.28,376.68 359.13,374.91 361.70,373.36 C364.27,371.81 367.09,369.93 369.40,368.05 C371.71,366.17 373.63,364.78 375.56,362.07 C377.49,359.36 379.47,356.10 380.95,351.78 C382.43,347.46 383.45,340.88 384.42,336.18 C385.38,331.47 385.89,324.83 386.73,323.56 C387.56,322.29 388.59,324.94 389.42,328.54 C390.25,332.14 390.96,338.78 391.73,345.14 C392.50,351.50 393.14,362.29 394.04,366.72 C394.94,371.15 396.09,370.15 397.12,371.70 C398.15,373.25 399.04,374.63 400.20,376.02 C401.36,377.40 402.77,379.89 404.05,380.00 C405.33,380.11 406.49,378.06 407.90,376.68 C409.31,375.30 411.75,372.53 412.52,371.70" fill="none" stroke="#3d5c5c" stroke-width="1.15" stroke-linejoin="round"/>
<path d="M354.00,379.34 C355.28,379.00 359.13,378.56 361.70,377.34 C364.27,376.13 367.09,374.25 369.40,372.03 C371.71,369.82 373.89,367.16 375.56,364.06 C377.23,360.97 378.13,358.42 379.41,353.44 C380.69,348.46 382.23,335.84 383.26,334.18 C384.29,332.52 384.80,339.72 385.57,343.48 C386.34,347.24 386.98,352.89 387.88,356.76 C388.78,360.63 390.06,364.23 390.96,366.72 C391.86,369.21 392.50,369.38 393.27,371.70 C394.04,374.02 394.68,379.56 395.58,380.66 C396.48,381.77 397.63,378.62 398.66,378.34 C399.69,378.06 400.71,378.73 401.74,379.00 C402.77,379.28 403.79,380.28 404.82,380.00 C405.85,379.72 406.75,378.45 407.90,377.34 C409.05,376.24 411.11,374.02 411.75,373.36" fill="none" stroke="#b0204c" stroke-width="1.15" stroke-linejoin="round"/>
<rect x="393.00" y="318.30" width="14.00" height="4.40" fill="#fef8d2" rx="1.5"/>
<circle cx="354.40" cy="320.50" r="0.95" fill="#111"/>
<circle cx="364.40" cy="320.50" r="0.95" fill="#7a7a7a"/>
<circle cx="366.70" cy="320.50" r="0.95" fill="#8a8a8a"/>
<circle cx="370.00" cy="320.50" r="0.95" fill="#a0a0a0"/>
<circle cx="376.00" cy="320.50" r="0.95" fill="#d06050"/>
<circle cx="378.60" cy="320.50" r="0.95" fill="#a03040"/>
<circle cx="381.20" cy="320.50" r="0.95" fill="#c86070"/>
<circle cx="383.80" cy="320.50" r="0.95" fill="#702020"/>
<circle cx="390.50" cy="320.50" r="0.95" fill="#5a3a20"/>
<circle cx="393.30" cy="320.50" r="0.95" fill="#3a2a10"/>
<circle cx="396.10" cy="320.50" r="0.95" fill="#7a2a10"/>
<circle cx="398.90" cy="320.50" r="0.95" fill="#3a2a10"/>
<circle cx="401.30" cy="320.50" r="0.95" fill="#4a3a10"/>
<circle cx="405.00" cy="320.50" r="0.95" fill="#e0d080"/>
<path d="M382.20,317.60 L382.20,316.40 L403.50,316.40 L403.50,317.60" fill="none" stroke="#333" stroke-width="0.6"/>
<text x="392.85" y="314.50" font-size="6" text-anchor="middle" fill="#2a2a2a">g1</text>
<path d="M406.36,379.00 C406.87,378.15 408.28,375.79 409.44,373.86 C410.60,371.92 412.65,368.46 413.29,367.38" fill="none" stroke="#555" stroke-width="0.5" stroke-opacity="0.7"/>
<path d="M406.36,379.00 C406.87,378.37 408.28,376.68 409.44,375.19 C410.60,373.69 412.65,370.90 413.29,370.04" fill="none" stroke="#6a3040" stroke-width="0.5" stroke-opacity="0.7"/>
<path d="M406.36,379.00 C406.87,378.59 408.28,377.57 409.44,376.51 C410.60,375.46 412.65,373.33 413.29,372.70" fill="none" stroke="#444" stroke-width="0.5" stroke-opacity="0.7"/>
<path d="M406.36,379.00 C406.87,378.81 408.28,378.45 409.44,377.84 C410.60,377.23 412.65,375.77 413.29,375.35" fill="none" stroke="#8a3050" stroke-width="0.5" stroke-opacity="0.7"/>
<path d="M406.36,379.00 C406.87,378.31 408.28,376.46 409.44,374.85 C410.60,373.25 412.65,370.29 413.29,369.38" fill="none" stroke="#777" stroke-width="0.5" stroke-opacity="0.7"/>
<rect x="435.80" y="347.30" width="5.30" height="3.50" fill="#3a4a5c"/>
<text x="443.90" y="351.10" font-size="6" fill="#2a2a2a">PBS</text>
<rect x="435.80" y="353.80" width="5.30" height="3.50" fill="#b0204c"/>
<text x="443.90" y="357.60" font-size="6" fill="#2a2a2a">Pam3CSK4</text>
<text x="6.90" y="434.55" font-size="11.5" font-weight="bold" fill="#000">G</text>
<text x="64.00" y="446.00" font-size="7.6" text-anchor="middle" fill="#2a2a2a">ProNeu1</text>
<line x1="45.50" y1="451.00" x2="45.50" y2="510.30" stroke="#222" stroke-width="1"/>
<line x1="44.80" y1="509.50" x2="82.80" y2="509.50" stroke="#222" stroke-width="1"/>
<line x1="42.50" y1="453.50" x2="45.30" y2="453.50" stroke="#222" stroke-width="0.8"/>
<text x="40.10" y="455.10" font-size="6.2" text-anchor="end" fill="#2a2a2a">1.5</text>
<line x1="42.50" y1="472.50" x2="45.30" y2="472.50" stroke="#222" stroke-width="0.8"/>
<text x="40.10" y="474.00" font-size="6.2" text-anchor="end" fill="#2a2a2a">1.0</text>
<line x1="42.50" y1="490.50" x2="45.30" y2="490.50" stroke="#222" stroke-width="0.8"/>
<text x="40.10" y="492.90" font-size="6.2" text-anchor="end" fill="#2a2a2a">0.5</text>
<line x1="42.50" y1="509.50" x2="45.30" y2="509.50" stroke="#222" stroke-width="0.8"/>
<text x="40.10" y="511.80" font-size="6.2" text-anchor="end" fill="#2a2a2a">0.0</text>
<rect x="51.20" y="500.35" width="10.10" height="9.45" fill="#4a5868"/>
<line x1="56.50" y1="500.35" x2="56.50" y2="499.22" stroke="#4a5868" stroke-width="1.0"/>
<line x1="54.45" y1="499.50" x2="58.05" y2="499.50" stroke="#4a5868" stroke-width="1.0"/>
<circle cx="55.75" cy="495.44" r="1.4" fill="#2a3644"/>
<circle cx="57.25" cy="501.48" r="1.4" fill="#2a3644"/>
<circle cx="52.25" cy="504.13" r="1.4" fill="#2a3644"/>
<circle cx="59.25" cy="500.73" r="1.4" fill="#2a3644"/>
<circle cx="56.25" cy="502.24" r="1.4" fill="#2a3644"/>
<rect x="67.20" y="487.69" width="10.00" height="22.11" fill="#d8465a"/>
<line x1="72.50" y1="487.69" x2="72.50" y2="480.13" stroke="#d8465a" stroke-width="1.0"/>
<line x1="70.40" y1="480.50" x2="74.00" y2="480.50" stroke="#d8465a" stroke-width="1.0"/>
<circle cx="72.20" cy="465.20" r="1.4" fill="#b8102e"/>
<circle cx="72.20" cy="475.78" r="1.4" fill="#b8102e"/>
<circle cx="72.20" cy="480.32" r="1.4" fill="#b8102e"/>
<circle cx="68.20" cy="499.22" r="1.4" fill="#b8102e"/>
<circle cx="76.20" cy="499.22" r="1.4" fill="#b8102e"/>
<circle cx="68.20" cy="502.24" r="1.4" fill="#b8102e"/>
<circle cx="72.20" cy="490.90" r="1.4" fill="#b8102e"/>
<line x1="55.90" y1="456.50" x2="71.30" y2="456.50" stroke="#222" stroke-width="0.8"/>
<text x="63.60" y="455.10" font-size="5.5" text-anchor="middle" fill="#2a2a2a">*</text>
<text x="125.40" y="446.00" font-size="7.6" text-anchor="middle" fill="#2a2a2a">ProNeu2</text>
<line x1="106.50" y1="450.50" x2="106.50" y2="510.20" stroke="#222" stroke-width="1"/>
<line x1="105.90" y1="509.50" x2="143.90" y2="509.50" stroke="#222" stroke-width="1"/>
<line x1="103.60" y1="452.50" x2="106.40" y2="452.50" stroke="#222" stroke-width="0.8"/>
<text x="101.20" y="454.26" font-size="6.2" text-anchor="end" fill="#2a2a2a">0.8</text>
<line x1="103.60" y1="466.50" x2="106.40" y2="466.50" stroke="#222" stroke-width="0.8"/>
<text x="101.20" y="468.62" font-size="6.2" text-anchor="end" fill="#2a2a2a">0.6</text>
<line x1="103.60" y1="480.50" x2="106.40" y2="480.50" stroke="#222" stroke-width="0.8"/>
<text x="101.20" y="482.98" font-size="6.2" text-anchor="end" fill="#2a2a2a">0.4</text>
<line x1="103.60" y1="495.50" x2="106.40" y2="495.50" stroke="#222" stroke-width="0.8"/>
<text x="101.20" y="497.34" font-size="6.2" text-anchor="end" fill="#2a2a2a">0.2</text>
<line x1="103.60" y1="509.50" x2="106.40" y2="509.50" stroke="#222" stroke-width="0.8"/>
<text x="101.20" y="511.70" font-size="6.2" text-anchor="end" fill="#2a2a2a">0.0</text>
<rect x="111.90" y="506.47" width="10.00" height="3.23" fill="#4a5868"/>
<line x1="116.50" y1="506.47" x2="116.50" y2="505.39" stroke="#4a5868" stroke-width="1.0"/>
<line x1="115.10" y1="505.50" x2="118.70" y2="505.50" stroke="#4a5868" stroke-width="1.0"/>
<circle cx="116.90" cy="502.52" r="1.4" fill="#2a3644"/>
<circle cx="114.40" cy="506.11" r="1.4" fill="#2a3644"/>
<circle cx="119.40" cy="506.11" r="1.4" fill="#2a3644"/>
<circle cx="116.90" cy="507.55" r="1.4" fill="#2a3644"/>
<rect x="128.30" y="492.47" width="9.90" height="17.23" fill="#d8465a"/>
<line x1="133.50" y1="492.47" x2="133.50" y2="486.01" stroke="#d8465a" stroke-width="1.0"/>
<line x1="131.45" y1="486.50" x2="135.05" y2="486.50" stroke="#d8465a" stroke-width="1.0"/>
<circle cx="133.25" cy="466.62" r="1.4" fill="#b8102e"/>
<circle cx="133.25" cy="483.13" r="1.4" fill="#b8102e"/>
<circle cx="132.25" cy="495.34" r="1.4" fill="#b8102e"/>
<circle cx="130.25" cy="501.80" r="1.4" fill="#b8102e"/>
<circle cx="134.75" cy="506.11" r="1.4" fill="#b8102e"/>
<line x1="117.60" y1="456.50" x2="132.30" y2="456.50" stroke="#222" stroke-width="0.8"/>
<text x="124.95" y="455.60" font-size="5.5" text-anchor="middle" fill="#2a2a2a">*</text>
<text x="25.90" y="480.00" font-size="8.1" text-anchor="middle" font-weight="bold" fill="#2a2a2a" textLength="39.00" lengthAdjust="spacingAndGlyphs" transform="rotate(-90 25.90 480.00)">% CD45.2+ BM</text>
<circle cx="52.10" cy="525.20" r="1.2" fill="#2a3644"/>
<text x="56.30" y="527.40" font-size="6.1" fill="#2a2a2a">PBS</text>
<circle cx="76.20" cy="525.20" r="1.2" fill="#c01838"/>
<text x="80.30" y="527.40" font-size="6.1" fill="#2a2a2a">Pam3CSK4</text>
<text x="178.30" y="434.75" font-size="11.5" font-weight="bold" fill="#000">H</text>
<text x="220.30" y="464.10" font-size="6" text-anchor="end" fill="#2a2a2a">Donor:Recipient</text>
<text x="220.30" y="476.80" font-size="6" text-anchor="end" fill="#2a2a2a">AML:WT</text>
<text x="220.30" y="501.40" font-size="6" text-anchor="end" fill="#2a2a2a"><tspan font-style="italic">Tlr2</tspan><tspan dy="-2" font-size="3.6">−/−</tspan><tspan dy="2">:AML:WT</tspan></text>
<line x1="223.50" y1="469.20" x2="223.50" y2="480.50" stroke="#333" stroke-width="0.9"/>
<line x1="223.50" y1="491.70" x2="223.50" y2="503.80" stroke="#333" stroke-width="0.9"/>
<line x1="226.50" y1="462.00" x2="226.50" y2="510.90" stroke="#222" stroke-width="1"/>
<line x1="225.80" y1="510.50" x2="327.50" y2="510.50" stroke="#222" stroke-width="1"/>
<line x1="226.50" y1="510.40" x2="226.50" y2="513.00" stroke="#222" stroke-width="0.8"/>
<text x="226.70" y="520.80" font-size="6" text-anchor="middle" fill="#2a2a2a">0</text>
<line x1="259.50" y1="510.40" x2="259.50" y2="513.00" stroke="#222" stroke-width="0.8"/>
<text x="259.60" y="520.80" font-size="6" text-anchor="middle" fill="#2a2a2a">20</text>
<line x1="292.50" y1="510.40" x2="292.50" y2="513.00" stroke="#222" stroke-width="0.8"/>
<text x="292.50" y="520.80" font-size="6" text-anchor="middle" fill="#2a2a2a">40</text>
<line x1="325.50" y1="510.40" x2="325.50" y2="513.00" stroke="#222" stroke-width="0.8"/>
<text x="325.40" y="520.80" font-size="6" text-anchor="middle" fill="#2a2a2a">60</text>
<rect x="226.80" y="466.20" width="27.86" height="5.80" fill="#3c4c5a"/>
<circle cx="252.20" cy="467.60" r="1.35" fill="#2a3644"/>
<circle cx="253.84" cy="470.60" r="1.35" fill="#2a3644"/>
<circle cx="255.49" cy="469.10" r="1.35" fill="#2a3644"/>
<circle cx="256.31" cy="467.10" r="1.35" fill="#2a3644"/>
<circle cx="257.13" cy="471.10" r="1.35" fill="#2a3644"/>
<circle cx="253.02" cy="469.60" r="1.35" fill="#2a3644"/>
<rect x="226.80" y="477.70" width="64.06" height="5.70" fill="#d6485c"/>
<circle cx="277.69" cy="480.55" r="1.35" fill="#b8102e"/>
<circle cx="279.34" cy="479.05" r="1.35" fill="#b8102e"/>
<circle cx="278.52" cy="482.35" r="1.35" fill="#b8102e"/>
<circle cx="290.86" cy="480.55" r="1.35" fill="#b8102e"/>
<circle cx="292.50" cy="482.05" r="1.35" fill="#b8102e"/>
<circle cx="294.14" cy="479.55" r="1.35" fill="#b8102e"/>
<circle cx="297.44" cy="480.55" r="1.35" fill="#b8102e"/>
<circle cx="299.08" cy="481.55" r="1.35" fill="#b8102e"/>
<circle cx="304.01" cy="479.55" r="1.35" fill="#b8102e"/>
<circle cx="306.48" cy="481.05" r="1.35" fill="#b8102e"/>
<rect x="226.80" y="488.50" width="11.41" height="6.10" fill="#b2bac2"/>
<circle cx="234.10" cy="491.55" r="1.35" fill="#2a3644"/>
<circle cx="236.57" cy="490.05" r="1.35" fill="#2a3644"/>
<circle cx="238.21" cy="493.05" r="1.35" fill="#2a3644"/>
<circle cx="241.50" cy="491.55" r="1.35" fill="#2a3644"/>
<circle cx="243.15" cy="490.55" r="1.35" fill="#2a3644"/>
<circle cx="244.79" cy="493.05" r="1.35" fill="#2a3644"/>
<circle cx="246.44" cy="491.55" r="1.35" fill="#2a3644"/>
<circle cx="249.73" cy="490.55" r="1.35" fill="#2a3644"/>
<circle cx="252.20" cy="492.55" r="1.35" fill="#2a3644"/>
<circle cx="257.95" cy="491.55" r="1.35" fill="#2a3644"/>
<rect x="226.80" y="499.20" width="14.70" height="6.20" fill="#f6c2ca"/>
<circle cx="233.28" cy="502.30" r="1.35" fill="#c01838"/>
<circle cx="235.75" cy="503.50" r="1.35" fill="#c01838"/>
<circle cx="238.21" cy="501.30" r="1.35" fill="#c01838"/>
<circle cx="241.50" cy="502.80" r="1.35" fill="#c01838"/>
<circle cx="243.97" cy="501.30" r="1.35" fill="#c01838"/>
<circle cx="246.44" cy="503.80" r="1.35" fill="#c01838"/>
<circle cx="248.08" cy="502.30" r="1.35" fill="#c01838"/>
<circle cx="250.55" cy="501.00" r="1.35" fill="#c01838"/>
<circle cx="253.02" cy="503.30" r="1.35" fill="#c01838"/>
<circle cx="254.66" cy="501.80" r="1.35" fill="#c01838"/>
<circle cx="264.53" cy="502.30" r="1.35" fill="#c01838"/>
<circle cx="284.27" cy="502.30" r="1.35" fill="#c01838"/>
<line x1="313.40" y1="467.30" x2="313.40" y2="480.00" stroke="#333" stroke-width="0.7"/>
<text x="313.70" y="473.15" font-size="6.0" text-anchor="middle" fill="#2a2a2a" transform="rotate(90 313.70 473.15)">****</text>
<line x1="324.40" y1="479.30" x2="324.40" y2="502.60" stroke="#333" stroke-width="0.7"/>
<text x="324.70" y="490.45" font-size="6.0" text-anchor="middle" fill="#2a2a2a" transform="rotate(90 324.70 490.45)">****</text>
<text x="277.20" y="533.20" font-size="8.3" text-anchor="middle" font-weight="bold" fill="#333" textLength="89.00" lengthAdjust="spacingAndGlyphs">% CD11b+F4/80+ of CD45.2+ BM</text>
<circle cx="247.70" cy="540.40" r="1.2" fill="#2a3644"/>
<text x="252.30" y="542.60" font-size="6.1" fill="#2a2a2a">PBS</text>
<circle cx="272.70" cy="540.40" r="1.2" fill="#c01838"/>
<text x="276.60" y="542.60" font-size="6.1" fill="#2a2a2a">Pam3CSK4</text>
<text x="345.00" y="434.75" font-size="11.5" font-weight="bold" fill="#000">I</text>
<text x="386.80" y="464.10" font-size="6" text-anchor="end" fill="#2a2a2a">Donor:Recipient</text>
<text x="386.80" y="476.80" font-size="6" text-anchor="end" fill="#2a2a2a">AML:WT</text>
<text x="386.80" y="501.40" font-size="6" text-anchor="end" fill="#2a2a2a"><tspan font-style="italic">Tlr2</tspan><tspan dy="-2" font-size="3.6">−/−</tspan><tspan dy="2">:AML:WT</tspan></text>
<line x1="389.50" y1="469.20" x2="389.50" y2="480.50" stroke="#333" stroke-width="0.9"/>
<line x1="389.50" y1="491.70" x2="389.50" y2="503.80" stroke="#333" stroke-width="0.9"/>
<line x1="392.50" y1="462.00" x2="392.50" y2="510.90" stroke="#222" stroke-width="1"/>
<line x1="392.30" y1="510.50" x2="494.70" y2="510.50" stroke="#222" stroke-width="1"/>
<line x1="393.50" y1="510.40" x2="393.50" y2="513.00" stroke="#222" stroke-width="0.8"/>
<text x="393.20" y="520.80" font-size="6" text-anchor="middle" fill="#2a2a2a">0</text>
<line x1="426.50" y1="510.40" x2="426.50" y2="513.00" stroke="#222" stroke-width="0.8"/>
<text x="426.30" y="520.80" font-size="6" text-anchor="middle" fill="#2a2a2a">20</text>
<line x1="459.50" y1="510.40" x2="459.50" y2="513.00" stroke="#222" stroke-width="0.8"/>
<text x="459.40" y="520.80" font-size="6" text-anchor="middle" fill="#2a2a2a">40</text>
<line x1="492.50" y1="510.40" x2="492.50" y2="513.00" stroke="#222" stroke-width="0.8"/>
<text x="492.50" y="520.80" font-size="6" text-anchor="middle" fill="#2a2a2a">60</text>
<rect x="393.30" y="466.30" width="60.31" height="6.10" fill="#3c4c5a"/>
<circle cx="442.85" cy="468.35" r="1.35" fill="#2a3644"/>
<circle cx="449.47" cy="470.85" r="1.35" fill="#2a3644"/>
<circle cx="452.78" cy="467.85" r="1.35" fill="#2a3644"/>
<circle cx="454.44" cy="470.35" r="1.35" fill="#2a3644"/>
<circle cx="456.09" cy="469.35" r="1.35" fill="#2a3644"/>
<circle cx="457.75" cy="470.85" r="1.35" fill="#2a3644"/>
<circle cx="459.40" cy="468.35" r="1.35" fill="#2a3644"/>
<circle cx="470.99" cy="469.35" r="1.35" fill="#2a3644"/>
<rect x="393.30" y="477.60" width="42.93" height="5.70" fill="#d6485c"/>
<circle cx="424.64" cy="480.45" r="1.35" fill="#b8102e"/>
<circle cx="427.95" cy="481.45" r="1.35" fill="#b8102e"/>
<circle cx="431.26" cy="479.45" r="1.35" fill="#b8102e"/>
<circle cx="432.92" cy="481.95" r="1.35" fill="#b8102e"/>
<circle cx="434.57" cy="480.45" r="1.35" fill="#b8102e"/>
<circle cx="436.23" cy="478.95" r="1.35" fill="#b8102e"/>
<circle cx="437.88" cy="481.45" r="1.35" fill="#b8102e"/>
<circle cx="439.54" cy="480.45" r="1.35" fill="#b8102e"/>
<circle cx="442.85" cy="479.45" r="1.35" fill="#b8102e"/>
<circle cx="444.50" cy="481.45" r="1.35" fill="#b8102e"/>
<circle cx="459.40" cy="480.45" r="1.35" fill="#b8102e"/>
<rect x="393.30" y="488.80" width="54.51" height="5.60" fill="#b2bac2"/>
<circle cx="394.03" cy="491.60" r="1.35" fill="#2a3644"/>
<circle cx="427.95" cy="491.60" r="1.35" fill="#2a3644"/>
<circle cx="441.19" cy="491.60" r="1.35" fill="#2a3644"/>
<circle cx="444.50" cy="490.10" r="1.35" fill="#2a3644"/>
<circle cx="446.16" cy="493.10" r="1.35" fill="#2a3644"/>
<circle cx="447.81" cy="491.60" r="1.35" fill="#2a3644"/>
<circle cx="449.47" cy="490.60" r="1.35" fill="#2a3644"/>
<circle cx="451.12" cy="492.60" r="1.35" fill="#2a3644"/>
<circle cx="452.78" cy="491.60" r="1.35" fill="#2a3644"/>
<circle cx="462.71" cy="491.60" r="1.35" fill="#2a3644"/>
<circle cx="466.02" cy="491.60" r="1.35" fill="#2a3644"/>
<rect x="393.30" y="499.20" width="9.83" height="6.90" fill="#f6c2ca"/>
<circle cx="401.47" cy="502.65" r="1.35" fill="#c01838"/>
<circle cx="403.13" cy="504.15" r="1.35" fill="#c01838"/>
<circle cx="408.09" cy="502.65" r="1.35" fill="#c01838"/>
<circle cx="411.40" cy="501.65" r="1.35" fill="#c01838"/>
<circle cx="413.06" cy="504.15" r="1.35" fill="#c01838"/>
<circle cx="414.71" cy="502.65" r="1.35" fill="#c01838"/>
<circle cx="416.37" cy="501.45" r="1.35" fill="#c01838"/>
<circle cx="418.02" cy="503.65" r="1.35" fill="#c01838"/>
<circle cx="419.68" cy="502.65" r="1.35" fill="#c01838"/>
<circle cx="422.99" cy="501.65" r="1.35" fill="#c01838"/>
<circle cx="424.64" cy="503.65" r="1.35" fill="#c01838"/>
<circle cx="426.30" cy="502.65" r="1.35" fill="#c01838"/>
<circle cx="429.61" cy="504.15" r="1.35" fill="#c01838"/>
<circle cx="451.12" cy="502.65" r="1.35" fill="#c01838"/>
<line x1="477.70" y1="468.70" x2="477.70" y2="480.00" stroke="#333" stroke-width="0.7"/>
<text x="478.00" y="473.85" font-size="6.0" text-anchor="middle" fill="#2a2a2a" transform="rotate(90 478.00 473.85)">**</text>
<line x1="477.70" y1="491.00" x2="477.70" y2="502.60" stroke="#333" stroke-width="0.7"/>
<text x="478.00" y="496.30" font-size="6.0" text-anchor="middle" fill="#2a2a2a" transform="rotate(90 478.00 496.30)">**</text>
<text x="443.50" y="533.20" font-size="8.3" text-anchor="middle" font-weight="bold" fill="#333" textLength="82.50" lengthAdjust="spacingAndGlyphs">% CD11b+Gr1+ of CD45.2+ BM</text>
<circle cx="414.60" cy="540.40" r="1.2" fill="#2a3644"/>
<text x="419.20" y="542.60" font-size="6.1" fill="#2a2a2a">PBS</text>
<circle cx="439.60" cy="540.40" r="1.2" fill="#c01838"/>
<text x="443.50" y="542.60" font-size="6.1" fill="#2a2a2a">Pam3CSK4</text>
<rect x="0.5" y="0.5" width="519" height="550" fill="none" stroke="#646464" stroke-width="1"/>
</svg>
</body></html>
